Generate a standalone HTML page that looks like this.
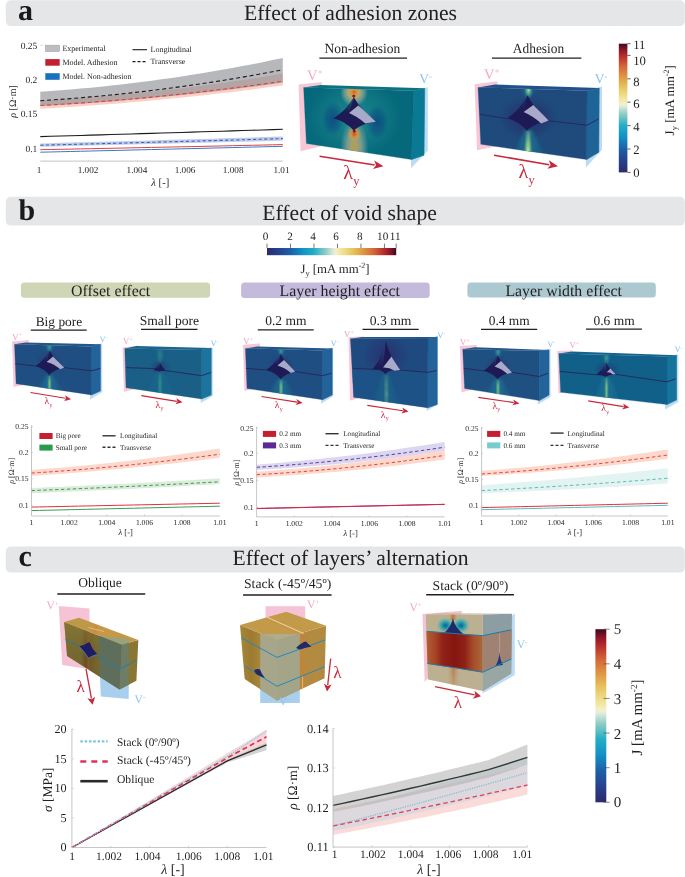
<!DOCTYPE html>
<html><head><meta charset="utf-8"><style>
html,body{margin:0;padding:0;background:#fff;}
svg{display:block;font-family:"Liberation Serif", serif;text-rendering:geometricPrecision;will-change:transform;}
</style></head><body>
<svg width="685" height="877" viewBox="0 0 685 877">
<defs><filter id="blur15" x="-50%" y="-50%" width="200%" height="200%"><feGaussianBlur stdDeviation="1.6"/></filter><clipPath id="cp1"><polygon points="303.60,87.60 413.70,90.70 411.50,159.60 306.40,143.50"/></clipPath><radialGradient id="rg2" gradientUnits="userSpaceOnUse" cx="0" cy="0" r="1" gradientTransform="translate(354.00,118.00) scale(48.00,40.00)"><stop offset="0" stop-color="#2a9a98" stop-opacity="0.6"/><stop offset="0.5" stop-color="#2a9a98" stop-opacity="0.35"/><stop offset="1" stop-color="#2a9a98" stop-opacity="0"/></radialGradient><radialGradient id="rg3" gradientUnits="userSpaceOnUse" cx="0" cy="0" r="1" gradientTransform="translate(333.00,119.00) scale(11.00,17.00)"><stop offset="0" stop-color="#0a3a82" stop-opacity="0.7"/><stop offset="0.6" stop-color="#0a3f80" stop-opacity="0.4"/><stop offset="1" stop-color="#0a4080" stop-opacity="0"/></radialGradient><radialGradient id="rg4" gradientUnits="userSpaceOnUse" cx="0" cy="0" r="1" gradientTransform="translate(377.00,122.00) scale(11.00,17.00)"><stop offset="0" stop-color="#0a3a82" stop-opacity="0.7"/><stop offset="0.6" stop-color="#0a3f80" stop-opacity="0.4"/><stop offset="1" stop-color="#0a4080" stop-opacity="0"/></radialGradient><radialGradient id="rg5" gradientUnits="userSpaceOnUse" cx="0" cy="0" r="1" gradientTransform="translate(354.00,92.00) scale(14.00,15.00)"><stop offset="0" stop-color="#c85a20" stop-opacity="1"/><stop offset="0.15" stop-color="#d89038" stop-opacity="1"/><stop offset="0.4" stop-color="#d0b070" stop-opacity="0.85"/><stop offset="0.7" stop-color="#b8b898" stop-opacity="0.5"/><stop offset="1" stop-color="#a8b0a0" stop-opacity="0"/></radialGradient><radialGradient id="rg6" gradientUnits="userSpaceOnUse" cx="0" cy="0" r="1" gradientTransform="translate(354.30,148.00) scale(14.00,30.00)"><stop offset="0" stop-color="#c8a048" stop-opacity="0.9"/><stop offset="0.2" stop-color="#c4a860" stop-opacity="0.85"/><stop offset="0.5" stop-color="#b4b094" stop-opacity="0.65"/><stop offset="0.8" stop-color="#a0aca0" stop-opacity="0.3"/><stop offset="1" stop-color="#a0aca0" stop-opacity="0"/></radialGradient><radialGradient id="rg7" gradientUnits="userSpaceOnUse" cx="0" cy="0" r="1" gradientTransform="translate(354.30,134.00) scale(7.00,8.00)"><stop offset="0" stop-color="#c85020" stop-opacity="1"/><stop offset="0.45" stop-color="#d89040" stop-opacity="0.85"/><stop offset="1" stop-color="#d8a848" stop-opacity="0"/></radialGradient><linearGradient id="lg8" gradientUnits="userSpaceOnUse" x1="353.90" y1="97.30" x2="349.00" y2="113.00"><stop offset="0" stop-color="#1d5a74" stop-opacity="1"/><stop offset="1" stop-color="#1d1a56" stop-opacity="1"/></linearGradient><clipPath id="cp9"><polygon points="478.00,87.40 587.00,90.70 586.60,159.60 480.80,144.30"/></clipPath><radialGradient id="rg10" gradientUnits="userSpaceOnUse" cx="0" cy="0" r="1" gradientTransform="translate(528.00,118.00) scale(30.00,22.00)"><stop offset="0" stop-color="#2a2466" stop-opacity="0.7"/><stop offset="0.6" stop-color="#2a2868" stop-opacity="0.4"/><stop offset="1" stop-color="#2a2a6a" stop-opacity="0"/></radialGradient><linearGradient id="lg11" gradientUnits="userSpaceOnUse" x1="508.50" y1="0.00" x2="548.50" y2="0.00"><stop offset="0" stop-color="#1c7494" stop-opacity="0"/><stop offset="0.5" stop-color="#1c7494" stop-opacity="0.85"/><stop offset="1" stop-color="#1c7494" stop-opacity="0"/></linearGradient><linearGradient id="lg12" gradientUnits="userSpaceOnUse" x1="517.50" y1="0.00" x2="539.50" y2="0.00"><stop offset="0" stop-color="#1c7494" stop-opacity="0"/><stop offset="0.5" stop-color="#1c7494" stop-opacity="0.6"/><stop offset="1" stop-color="#1c7494" stop-opacity="0"/></linearGradient><radialGradient id="rg13" gradientUnits="userSpaceOnUse" cx="0" cy="0" r="1" gradientTransform="translate(528.50,90.00) scale(4.80,9.00)"><stop offset="0" stop-color="#b8d880" stop-opacity="1"/><stop offset="0.4" stop-color="#60b890" stop-opacity="0.8"/><stop offset="1" stop-color="#2a8a9a" stop-opacity="0"/></radialGradient><linearGradient id="lg14" gradientUnits="userSpaceOnUse" x1="524.60" y1="0.00" x2="531.80" y2="0.00"><stop offset="0" stop-color="#a8d080" stop-opacity="0"/><stop offset="0.5" stop-color="#a8d080" stop-opacity="0.95"/><stop offset="1" stop-color="#a8d080" stop-opacity="0"/></linearGradient><linearGradient id="lg16" gradientUnits="userSpaceOnUse" x1="0.00" y1="131.00" x2="0.00" y2="162.00"><stop offset="0" stop-color="#fff" stop-opacity="0.3"/><stop offset="0.35" stop-color="#fff" stop-opacity="1"/><stop offset="1" stop-color="#fff" stop-opacity="0.9"/></linearGradient><mask id="m15" maskUnits="userSpaceOnUse" x="0" y="0" width="685" height="877"><rect x="524.60" y="131.00" width="7.20" height="31.00" fill="url(#lg16)"/></mask><radialGradient id="rg17" gradientUnits="userSpaceOnUse" cx="0" cy="0" r="1" gradientTransform="translate(528.00,150.00) scale(5.00,14.00)"><stop offset="0" stop-color="#d0e088" stop-opacity="0.9"/><stop offset="0.4" stop-color="#80c888" stop-opacity="0.6"/><stop offset="1" stop-color="#2a8a9a" stop-opacity="0"/></radialGradient><linearGradient id="lg18" gradientUnits="userSpaceOnUse" x1="527.60" y1="95.50" x2="523.60" y2="112.10"><stop offset="0" stop-color="#24306e" stop-opacity="1"/><stop offset="1" stop-color="#1d1a56" stop-opacity="1"/></linearGradient><linearGradient id="lg19" gradientUnits="userSpaceOnUse" x1="0.00" y1="172.40" x2="0.00" y2="43.70"><stop offset="0.0" stop-color="#2d2a6b" stop-opacity="1"/><stop offset="0.0909" stop-color="#26428c" stop-opacity="1"/><stop offset="0.1818" stop-color="#1c60a8" stop-opacity="1"/><stop offset="0.2727" stop-color="#1290c6" stop-opacity="1"/><stop offset="0.3636" stop-color="#22aec6" stop-opacity="1"/><stop offset="0.4545" stop-color="#90ccc4" stop-opacity="1"/><stop offset="0.5182" stop-color="#e4ece0" stop-opacity="1"/><stop offset="0.5318" stop-color="#f4f0c8" stop-opacity="1"/><stop offset="0.5909" stop-color="#efe08e" stop-opacity="1"/><stop offset="0.6636" stop-color="#e6c45e" stop-opacity="1"/><stop offset="0.7273" stop-color="#e0a048" stop-opacity="1"/><stop offset="0.8182" stop-color="#d66a38" stop-opacity="1"/><stop offset="0.9091" stop-color="#b52a2c" stop-opacity="1"/><stop offset="0.9545" stop-color="#8a1628" stop-opacity="1"/><stop offset="1.0" stop-color="#3c0a1e" stop-opacity="1"/></linearGradient><clipPath id="cp20"><polygon points="14.50,344.30 91.50,346.40 91.50,394.90 16.10,383.70"/></clipPath><radialGradient id="rg21" gradientUnits="userSpaceOnUse" cx="0" cy="0" r="1" gradientTransform="translate(49.50,362.85) scale(14.00,12.00)"><stop offset="0" stop-color="#2a2868" stop-opacity="0.55"/><stop offset="0.6" stop-color="#2a2a6a" stop-opacity="0.275"/><stop offset="1" stop-color="#2a2a6a" stop-opacity="0"/></radialGradient><radialGradient id="rg22" gradientUnits="userSpaceOnUse" cx="0" cy="0" r="1" gradientTransform="translate(49.50,347.15) scale(3.40,5.65)"><stop offset="0" stop-color="#7cc080" stop-opacity="0.9025"/><stop offset="0.5" stop-color="#3c9a8c" stop-opacity="0.57"/><stop offset="1" stop-color="#2a8a9a" stop-opacity="0"/></radialGradient><linearGradient id="lg23" gradientUnits="userSpaceOnUse" x1="34.50" y1="0.00" x2="64.50" y2="0.00"><stop offset="0" stop-color="#1c7494" stop-opacity="0"/><stop offset="0.5" stop-color="#1c7494" stop-opacity="0.8"/><stop offset="1" stop-color="#1c7494" stop-opacity="0"/></linearGradient><linearGradient id="lg24" gradientUnits="userSpaceOnUse" x1="42.50" y1="0.00" x2="56.50" y2="0.00"><stop offset="0" stop-color="#1c7494" stop-opacity="0"/><stop offset="0.5" stop-color="#1c7494" stop-opacity="0.5"/><stop offset="1" stop-color="#1c7494" stop-opacity="0"/></linearGradient><linearGradient id="lg25" gradientUnits="userSpaceOnUse" x1="47.10" y1="0.00" x2="51.90" y2="0.00"><stop offset="0" stop-color="#7cc080" stop-opacity="0"/><stop offset="0.5" stop-color="#7cc080" stop-opacity="0.95"/><stop offset="1" stop-color="#7cc080" stop-opacity="0"/></linearGradient><linearGradient id="lg27" gradientUnits="userSpaceOnUse" x1="0.00" y1="375.90" x2="0.00" y2="392.50"><stop offset="0" stop-color="#fff" stop-opacity="0.3"/><stop offset="0.35" stop-color="#fff" stop-opacity="1"/><stop offset="1" stop-color="#fff" stop-opacity="0.9"/></linearGradient><mask id="m26" maskUnits="userSpaceOnUse" x="0" y="0" width="685" height="877"><rect x="47.10" y="375.90" width="4.80" height="16.60" fill="url(#lg27)"/></mask><linearGradient id="lg28" gradientUnits="userSpaceOnUse" x1="49.80" y1="350.80" x2="46.60" y2="362.00"><stop offset="0" stop-color="#2a4a80" stop-opacity="1"/><stop offset="1" stop-color="#1d1a56" stop-opacity="1"/></linearGradient><clipPath id="cp29"><polygon points="124.80,348.40 201.50,350.00 201.50,398.90 126.00,387.70"/></clipPath><radialGradient id="rg30" gradientUnits="userSpaceOnUse" cx="0" cy="0" r="1" gradientTransform="translate(160.00,367.10) scale(11.00,8.00)"><stop offset="0" stop-color="#2a2868" stop-opacity="0.5"/><stop offset="0.6" stop-color="#2a2a6a" stop-opacity="0.25"/><stop offset="1" stop-color="#2a2a6a" stop-opacity="0"/></radialGradient><radialGradient id="rg31" gradientUnits="userSpaceOnUse" cx="0" cy="0" r="1" gradientTransform="translate(160.00,355.05) scale(3.74,9.55)"><stop offset="0" stop-color="#3aa88a" stop-opacity="0.57"/><stop offset="0.5" stop-color="#3c9a8c" stop-opacity="0.36"/><stop offset="1" stop-color="#2a8a9a" stop-opacity="0"/></radialGradient><linearGradient id="lg32" gradientUnits="userSpaceOnUse" x1="143.50" y1="0.00" x2="176.50" y2="0.00"><stop offset="0" stop-color="#1a6a8e" stop-opacity="0"/><stop offset="0.5" stop-color="#1a6a8e" stop-opacity="0.6400000000000001"/><stop offset="1" stop-color="#1a6a8e" stop-opacity="0"/></linearGradient><linearGradient id="lg33" gradientUnits="userSpaceOnUse" x1="152.30" y1="0.00" x2="167.70" y2="0.00"><stop offset="0" stop-color="#1a6a8e" stop-opacity="0"/><stop offset="0.5" stop-color="#1a6a8e" stop-opacity="0.4"/><stop offset="1" stop-color="#1a6a8e" stop-opacity="0"/></linearGradient><linearGradient id="lg34" gradientUnits="userSpaceOnUse" x1="157.36" y1="0.00" x2="162.64" y2="0.00"><stop offset="0" stop-color="#3aa88a" stop-opacity="0"/><stop offset="0.5" stop-color="#3aa88a" stop-opacity="0.6"/><stop offset="1" stop-color="#3aa88a" stop-opacity="0"/></linearGradient><linearGradient id="lg36" gradientUnits="userSpaceOnUse" x1="0.00" y1="372.60" x2="0.00" y2="396.00"><stop offset="0" stop-color="#fff" stop-opacity="0.3"/><stop offset="0.35" stop-color="#fff" stop-opacity="1"/><stop offset="1" stop-color="#fff" stop-opacity="0.9"/></linearGradient><mask id="m35" maskUnits="userSpaceOnUse" x="0" y="0" width="685" height="877"><rect x="157.36" y="372.60" width="5.28" height="23.40" fill="url(#lg36)"/></mask><linearGradient id="lg37" gradientUnits="userSpaceOnUse" x1="159.90" y1="362.60" x2="159.65" y2="368.70"><stop offset="0" stop-color="#2a4a80" stop-opacity="1"/><stop offset="1" stop-color="#1d1a56" stop-opacity="1"/></linearGradient><clipPath id="cp38"><polygon points="245.40,348.40 322.50,350.40 322.50,399.70 247.00,388.50"/></clipPath><radialGradient id="rg39" gradientUnits="userSpaceOnUse" cx="0" cy="0" r="1" gradientTransform="translate(281.00,366.45) scale(14.00,12.00)"><stop offset="0" stop-color="#2a2868" stop-opacity="0.55"/><stop offset="0.6" stop-color="#2a2a6a" stop-opacity="0.275"/><stop offset="1" stop-color="#2a2a6a" stop-opacity="0"/></radialGradient><radialGradient id="rg40" gradientUnits="userSpaceOnUse" cx="0" cy="0" r="1" gradientTransform="translate(281.00,350.75) scale(3.40,5.25)"><stop offset="0" stop-color="#7cc080" stop-opacity="0.9025"/><stop offset="0.5" stop-color="#3c9a8c" stop-opacity="0.57"/><stop offset="1" stop-color="#2a8a9a" stop-opacity="0"/></radialGradient><linearGradient id="lg41" gradientUnits="userSpaceOnUse" x1="266.00" y1="0.00" x2="296.00" y2="0.00"><stop offset="0" stop-color="#1c7494" stop-opacity="0"/><stop offset="0.5" stop-color="#1c7494" stop-opacity="0.8"/><stop offset="1" stop-color="#1c7494" stop-opacity="0"/></linearGradient><linearGradient id="lg42" gradientUnits="userSpaceOnUse" x1="274.00" y1="0.00" x2="288.00" y2="0.00"><stop offset="0" stop-color="#1c7494" stop-opacity="0"/><stop offset="0.5" stop-color="#1c7494" stop-opacity="0.5"/><stop offset="1" stop-color="#1c7494" stop-opacity="0"/></linearGradient><linearGradient id="lg43" gradientUnits="userSpaceOnUse" x1="278.60" y1="0.00" x2="283.40" y2="0.00"><stop offset="0" stop-color="#7cc080" stop-opacity="0"/><stop offset="0.5" stop-color="#7cc080" stop-opacity="0.95"/><stop offset="1" stop-color="#7cc080" stop-opacity="0"/></linearGradient><linearGradient id="lg45" gradientUnits="userSpaceOnUse" x1="0.00" y1="379.90" x2="0.00" y2="396.50"><stop offset="0" stop-color="#fff" stop-opacity="0.3"/><stop offset="0.35" stop-color="#fff" stop-opacity="1"/><stop offset="1" stop-color="#fff" stop-opacity="0.9"/></linearGradient><mask id="m44" maskUnits="userSpaceOnUse" x="0" y="0" width="685" height="877"><rect x="278.60" y="379.90" width="4.80" height="16.60" fill="url(#lg45)"/></mask><linearGradient id="lg46" gradientUnits="userSpaceOnUse" x1="280.80" y1="354.00" x2="277.50" y2="365.50"><stop offset="0" stop-color="#2a4a80" stop-opacity="1"/><stop offset="1" stop-color="#1d1a56" stop-opacity="1"/></linearGradient><clipPath id="cp47"><polygon points="350.40,338.70 428.00,339.00 427.50,407.80 353.70,397.30"/></clipPath><linearGradient id="lg48" gradientUnits="userSpaceOnUse" x1="369.00" y1="0.00" x2="403.00" y2="0.00"><stop offset="0" stop-color="#1c7494" stop-opacity="0"/><stop offset="0.5" stop-color="#1c7494" stop-opacity="0.8"/><stop offset="1" stop-color="#1c7494" stop-opacity="0"/></linearGradient><radialGradient id="rg49" gradientUnits="userSpaceOnUse" cx="0" cy="0" r="1" gradientTransform="translate(386.00,355.00) scale(24.00,22.00)"><stop offset="0" stop-color="#2a2868" stop-opacity="0.7"/><stop offset="0.6" stop-color="#2a2a6a" stop-opacity="0.35"/><stop offset="1" stop-color="#2a2a6a" stop-opacity="0"/></radialGradient><linearGradient id="lg50" gradientUnits="userSpaceOnUse" x1="383.50" y1="0.00" x2="389.10" y2="0.00"><stop offset="0" stop-color="#8cc880" stop-opacity="0"/><stop offset="0.5" stop-color="#8cc880" stop-opacity="0.95"/><stop offset="1" stop-color="#8cc880" stop-opacity="0"/></linearGradient><linearGradient id="lg52" gradientUnits="userSpaceOnUse" x1="0.00" y1="375.00" x2="0.00" y2="404.00"><stop offset="0" stop-color="#fff" stop-opacity="0.3"/><stop offset="0.35" stop-color="#fff" stop-opacity="1"/><stop offset="1" stop-color="#fff" stop-opacity="0.9"/></linearGradient><mask id="m51" maskUnits="userSpaceOnUse" x="0" y="0" width="685" height="877"><rect x="383.50" y="375.00" width="5.60" height="29.00" fill="url(#lg52)"/></mask><radialGradient id="rg53" gradientUnits="userSpaceOnUse" cx="0" cy="0" r="1" gradientTransform="translate(386.50,394.00) scale(3.40,9.00)"><stop offset="0" stop-color="#b8d888" stop-opacity="0.9"/><stop offset="0.45" stop-color="#60b08c" stop-opacity="0.5"/><stop offset="1" stop-color="#2a8a9a" stop-opacity="0"/></radialGradient><linearGradient id="lg54" gradientUnits="userSpaceOnUse" x1="385.80" y1="341.10" x2="383.00" y2="367.50"><stop offset="0" stop-color="#2a4a80" stop-opacity="1"/><stop offset="1" stop-color="#1d1a56" stop-opacity="1"/></linearGradient><clipPath id="cp55"><polygon points="462.70,349.20 539.30,350.80 539.30,400.60 464.60,388.50"/></clipPath><radialGradient id="rg56" gradientUnits="userSpaceOnUse" cx="0" cy="0" r="1" gradientTransform="translate(498.00,367.25) scale(14.00,12.00)"><stop offset="0" stop-color="#2a2868" stop-opacity="0.55"/><stop offset="0.6" stop-color="#2a2a6a" stop-opacity="0.275"/><stop offset="1" stop-color="#2a2a6a" stop-opacity="0"/></radialGradient><radialGradient id="rg57" gradientUnits="userSpaceOnUse" cx="0" cy="0" r="1" gradientTransform="translate(498.00,351.80) scale(3.40,5.80)"><stop offset="0" stop-color="#7cc080" stop-opacity="0.9025"/><stop offset="0.5" stop-color="#3c9a8c" stop-opacity="0.57"/><stop offset="1" stop-color="#2a8a9a" stop-opacity="0"/></radialGradient><linearGradient id="lg58" gradientUnits="userSpaceOnUse" x1="483.00" y1="0.00" x2="513.00" y2="0.00"><stop offset="0" stop-color="#1c7494" stop-opacity="0"/><stop offset="0.5" stop-color="#1c7494" stop-opacity="0.8"/><stop offset="1" stop-color="#1c7494" stop-opacity="0"/></linearGradient><linearGradient id="lg59" gradientUnits="userSpaceOnUse" x1="491.00" y1="0.00" x2="505.00" y2="0.00"><stop offset="0" stop-color="#1c7494" stop-opacity="0"/><stop offset="0.5" stop-color="#1c7494" stop-opacity="0.5"/><stop offset="1" stop-color="#1c7494" stop-opacity="0"/></linearGradient><linearGradient id="lg60" gradientUnits="userSpaceOnUse" x1="495.60" y1="0.00" x2="500.40" y2="0.00"><stop offset="0" stop-color="#7cc080" stop-opacity="0"/><stop offset="0.5" stop-color="#7cc080" stop-opacity="0.95"/><stop offset="1" stop-color="#7cc080" stop-opacity="0"/></linearGradient><linearGradient id="lg62" gradientUnits="userSpaceOnUse" x1="0.00" y1="379.90" x2="0.00" y2="397.00"><stop offset="0" stop-color="#fff" stop-opacity="0.3"/><stop offset="0.35" stop-color="#fff" stop-opacity="1"/><stop offset="1" stop-color="#fff" stop-opacity="0.9"/></linearGradient><mask id="m61" maskUnits="userSpaceOnUse" x="0" y="0" width="685" height="877"><rect x="495.60" y="379.90" width="4.80" height="17.10" fill="url(#lg62)"/></mask><linearGradient id="lg63" gradientUnits="userSpaceOnUse" x1="497.60" y1="355.60" x2="494.50" y2="366.50"><stop offset="0" stop-color="#2a4a80" stop-opacity="1"/><stop offset="1" stop-color="#1d1a56" stop-opacity="1"/></linearGradient><clipPath id="cp64"><polygon points="558.80,353.40 667.00,356.60 667.00,404.60 560.70,392.30"/></clipPath><radialGradient id="rg65" gradientUnits="userSpaceOnUse" cx="0" cy="0" r="1" gradientTransform="translate(606.50,369.80) scale(13.00,9.00)"><stop offset="0" stop-color="#2a2868" stop-opacity="0.55"/><stop offset="0.6" stop-color="#2a2a6a" stop-opacity="0.275"/><stop offset="1" stop-color="#2a2a6a" stop-opacity="0"/></radialGradient><radialGradient id="rg66" gradientUnits="userSpaceOnUse" cx="0" cy="0" r="1" gradientTransform="translate(606.50,357.95) scale(3.40,6.95)"><stop offset="0" stop-color="#7cc080" stop-opacity="0.9025"/><stop offset="0.5" stop-color="#3c9a8c" stop-opacity="0.57"/><stop offset="1" stop-color="#2a8a9a" stop-opacity="0"/></radialGradient><linearGradient id="lg67" gradientUnits="userSpaceOnUse" x1="591.50" y1="0.00" x2="621.50" y2="0.00"><stop offset="0" stop-color="#1c7494" stop-opacity="0"/><stop offset="0.5" stop-color="#1c7494" stop-opacity="0.8"/><stop offset="1" stop-color="#1c7494" stop-opacity="0"/></linearGradient><linearGradient id="lg68" gradientUnits="userSpaceOnUse" x1="599.50" y1="0.00" x2="613.50" y2="0.00"><stop offset="0" stop-color="#1c7494" stop-opacity="0"/><stop offset="0.5" stop-color="#1c7494" stop-opacity="0.5"/><stop offset="1" stop-color="#1c7494" stop-opacity="0"/></linearGradient><linearGradient id="lg69" gradientUnits="userSpaceOnUse" x1="604.10" y1="0.00" x2="608.90" y2="0.00"><stop offset="0" stop-color="#7cc080" stop-opacity="0"/><stop offset="0.5" stop-color="#7cc080" stop-opacity="0.95"/><stop offset="1" stop-color="#7cc080" stop-opacity="0"/></linearGradient><linearGradient id="lg71" gradientUnits="userSpaceOnUse" x1="0.00" y1="377.70" x2="0.00" y2="401.00"><stop offset="0" stop-color="#fff" stop-opacity="0.3"/><stop offset="0.35" stop-color="#fff" stop-opacity="1"/><stop offset="1" stop-color="#fff" stop-opacity="0.9"/></linearGradient><mask id="m70" maskUnits="userSpaceOnUse" x="0" y="0" width="685" height="877"><rect x="604.10" y="377.70" width="4.80" height="23.30" fill="url(#lg71)"/></mask><linearGradient id="lg72" gradientUnits="userSpaceOnUse" x1="606.20" y1="362.90" x2="606.50" y2="372.50"><stop offset="0" stop-color="#2a4a80" stop-opacity="1"/><stop offset="1" stop-color="#1d1a56" stop-opacity="1"/></linearGradient><linearGradient id="lg73" gradientUnits="userSpaceOnUse" x1="267.00" y1="0.00" x2="396.20" y2="0.00"><stop offset="0.0" stop-color="#2d2a6b" stop-opacity="1"/><stop offset="0.0909" stop-color="#26428c" stop-opacity="1"/><stop offset="0.1818" stop-color="#1c60a8" stop-opacity="1"/><stop offset="0.2727" stop-color="#1290c6" stop-opacity="1"/><stop offset="0.3636" stop-color="#22aec6" stop-opacity="1"/><stop offset="0.4545" stop-color="#90ccc4" stop-opacity="1"/><stop offset="0.5182" stop-color="#e4ece0" stop-opacity="1"/><stop offset="0.5318" stop-color="#f4f0c8" stop-opacity="1"/><stop offset="0.5909" stop-color="#efe08e" stop-opacity="1"/><stop offset="0.6636" stop-color="#e6c45e" stop-opacity="1"/><stop offset="0.7273" stop-color="#e0a048" stop-opacity="1"/><stop offset="0.8182" stop-color="#d66a38" stop-opacity="1"/><stop offset="0.9091" stop-color="#b52a2c" stop-opacity="1"/><stop offset="0.9545" stop-color="#8a1628" stop-opacity="1"/><stop offset="1.0" stop-color="#3c0a1e" stop-opacity="1"/></linearGradient><linearGradient id="lg74" gradientUnits="userSpaceOnUse" x1="64.00" y1="0.00" x2="122.00" y2="0.00"><stop offset="0" stop-color="#76682e" stop-opacity="1"/><stop offset="0.3" stop-color="#746630" stop-opacity="1"/><stop offset="0.38" stop-color="#624e22" stop-opacity="1"/><stop offset="0.42" stop-color="#8e5426" stop-opacity="1"/><stop offset="0.45" stop-color="#6e5a26" stop-opacity="1"/><stop offset="0.6" stop-color="#766830" stop-opacity="1"/><stop offset="1" stop-color="#786a32" stop-opacity="1"/></linearGradient><linearGradient id="lg75" gradientUnits="userSpaceOnUse" x1="0.00" y1="622.00" x2="0.00" y2="690.00"><stop offset="0" stop-color="#8a7a38" stop-opacity="0.7"/><stop offset="0.5" stop-color="#8a7a38" stop-opacity="0"/><stop offset="1" stop-color="#5a4a20" stop-opacity="0.3"/></linearGradient><linearGradient id="lg76" gradientUnits="userSpaceOnUse" x1="64.00" y1="620.00" x2="138.00" y2="642.00"><stop offset="0" stop-color="#b89a48" stop-opacity="1"/><stop offset="0.38" stop-color="#c09848" stop-opacity="1"/><stop offset="0.42" stop-color="#d08a40" stop-opacity="1"/><stop offset="0.48" stop-color="#c89848" stop-opacity="1"/><stop offset="1" stop-color="#c09a48" stop-opacity="1"/></linearGradient><clipPath id="cp77"><polygon points="64.20,622.00 79.00,617.80 138.30,639.90 121.90,644.70"/></clipPath><clipPath id="cp78"><polygon points="64.20,622.00 121.90,644.70 119.60,689.50 67.00,655.90"/></clipPath><clipPath id="cp79"><polygon points="121.90,644.70 138.30,639.90 136.40,680.80 119.60,689.50"/></clipPath><linearGradient id="lg80" gradientUnits="userSpaceOnUse" x1="240.00" y1="0.00" x2="277.00" y2="0.00"><stop offset="0" stop-color="#a48838" stop-opacity="1"/><stop offset="0.3" stop-color="#9c7a30" stop-opacity="1"/><stop offset="0.6" stop-color="#aa8a3c" stop-opacity="1"/><stop offset="1" stop-color="#a88a3c" stop-opacity="1"/></linearGradient><linearGradient id="lg81" gradientUnits="userSpaceOnUse" x1="277.00" y1="0.00" x2="326.00" y2="0.00"><stop offset="0" stop-color="#b08a42" stop-opacity="1"/><stop offset="0.45" stop-color="#b88a40" stop-opacity="1"/><stop offset="0.52" stop-color="#c0843a" stop-opacity="1"/><stop offset="0.6" stop-color="#b48a40" stop-opacity="1"/><stop offset="1" stop-color="#b08a40" stop-opacity="1"/></linearGradient><clipPath id="cp82"><polygon points="240.00,625.10 286.30,611.70 326.00,625.80 277.00,640.20"/></clipPath><clipPath id="cp83"><polygon points="240.00,625.10 277.00,640.20 277.00,700.40 244.70,678.90"/></clipPath><clipPath id="cp84"><polygon points="277.00,640.20 326.00,625.80 324.60,678.20 277.00,700.40"/></clipPath><clipPath id="cp85"><polygon points="425.80,614.50 482.80,614.50 482.80,691.10 428.00,679.50"/></clipPath><radialGradient id="rg86" gradientUnits="userSpaceOnUse" cx="0" cy="0" r="1" gradientTransform="translate(445.50,625.50) scale(10.00,9.00)"><stop offset="0" stop-color="#1a5a90" stop-opacity="1"/><stop offset="0.3" stop-color="#1896aa" stop-opacity="1"/><stop offset="0.6" stop-color="#58aca8" stop-opacity="0.8"/><stop offset="1" stop-color="#b0b8a0" stop-opacity="0"/></radialGradient><radialGradient id="rg87" gradientUnits="userSpaceOnUse" cx="0" cy="0" r="1" gradientTransform="translate(461.00,625.50) scale(10.00,9.00)"><stop offset="0" stop-color="#1a5a90" stop-opacity="1"/><stop offset="0.3" stop-color="#1896aa" stop-opacity="1"/><stop offset="0.6" stop-color="#58aca8" stop-opacity="0.8"/><stop offset="1" stop-color="#b0b8a0" stop-opacity="0"/></radialGradient><linearGradient id="lg88" gradientUnits="userSpaceOnUse" x1="449.00" y1="0.00" x2="457.00" y2="0.00"><stop offset="0" stop-color="#c08040" stop-opacity="0"/><stop offset="0.5" stop-color="#c06a30" stop-opacity="0.9"/><stop offset="1" stop-color="#c08040" stop-opacity="0"/></linearGradient><linearGradient id="lg89" gradientUnits="userSpaceOnUse" x1="425.00" y1="0.00" x2="483.00" y2="0.00"><stop offset="0" stop-color="#b0643a" stop-opacity="1"/><stop offset="0.18" stop-color="#a84424" stop-opacity="1"/><stop offset="0.3" stop-color="#92221a" stop-opacity="1"/><stop offset="0.5" stop-color="#841610" stop-opacity="1"/><stop offset="0.68" stop-color="#8e2016" stop-opacity="1"/><stop offset="0.82" stop-color="#a44a28" stop-opacity="1"/><stop offset="1" stop-color="#ac6a3c" stop-opacity="1"/></linearGradient><linearGradient id="lg90" gradientUnits="userSpaceOnUse" x1="447.00" y1="0.00" x2="460.00" y2="0.00"><stop offset="0" stop-color="#c8a070" stop-opacity="0"/><stop offset="0.5" stop-color="#b86a38" stop-opacity="0.85"/><stop offset="1" stop-color="#c8a070" stop-opacity="0"/></linearGradient><linearGradient id="lg91" gradientUnits="userSpaceOnUse" x1="0.00" y1="664.00" x2="0.00" y2="690.00"><stop offset="0" stop-color="#fff" stop-opacity="1"/><stop offset="1" stop-color="#fff" stop-opacity="0.2"/></linearGradient><mask id="m92" maskUnits="userSpaceOnUse" x="0" y="0" width="685" height="877"><rect x="447" y="667.5" width="13" height="26" fill="url(#lg91)"/></mask><clipPath id="cp93"><polygon points="482.80,614.50 512.00,613.80 511.20,673.60 482.80,691.10"/></clipPath><linearGradient id="lg94" gradientUnits="userSpaceOnUse" x1="0.00" y1="802.30" x2="0.00" y2="629.20"><stop offset="0.0" stop-color="#2d2a6b" stop-opacity="1"/><stop offset="0.0909" stop-color="#26428c" stop-opacity="1"/><stop offset="0.1818" stop-color="#1c60a8" stop-opacity="1"/><stop offset="0.2727" stop-color="#1290c6" stop-opacity="1"/><stop offset="0.3636" stop-color="#22aec6" stop-opacity="1"/><stop offset="0.4545" stop-color="#90ccc4" stop-opacity="1"/><stop offset="0.5182" stop-color="#e4ece0" stop-opacity="1"/><stop offset="0.5318" stop-color="#f4f0c8" stop-opacity="1"/><stop offset="0.5909" stop-color="#efe08e" stop-opacity="1"/><stop offset="0.6636" stop-color="#e6c45e" stop-opacity="1"/><stop offset="0.7273" stop-color="#e0a048" stop-opacity="1"/><stop offset="0.8182" stop-color="#d66a38" stop-opacity="1"/><stop offset="0.9091" stop-color="#b52a2c" stop-opacity="1"/><stop offset="0.9545" stop-color="#8a1628" stop-opacity="1"/><stop offset="1.0" stop-color="#3c0a1e" stop-opacity="1"/></linearGradient></defs>
<rect x="5.8" y="0.2" width="679" height="25.900000000000002" rx="5" fill="#e5e6e8"/>
<text x="18.00" y="20.40" font-size="30" fill="#1a1a1a" text-anchor="start" font-weight="bold">a</text>
<text x="244.00" y="20.20" font-size="21.7" fill="#231f20" text-anchor="start" textLength="213.00" lengthAdjust="spacingAndGlyphs">Effect of adhesion zones</text>
<rect x="5.8" y="196.8" width="679" height="28.799999999999983" rx="5" fill="#e5e6e8"/>
<text x="18.60" y="219.80" font-size="30" fill="#1a1a1a" text-anchor="start" font-weight="bold">b</text>
<text x="262.30" y="219.80" font-size="21.7" fill="#231f20" text-anchor="start" textLength="174.60" lengthAdjust="spacingAndGlyphs">Effect of void shape</text>
<rect x="5.8" y="546.5" width="679" height="26.100000000000023" rx="5" fill="#e5e6e8"/>
<text x="18.60" y="565.60" font-size="30" fill="#1a1a1a" text-anchor="start" font-weight="bold">c</text>
<text x="232.50" y="565.40" font-size="21.7" fill="#231f20" text-anchor="start" textLength="236.10" lengthAdjust="spacingAndGlyphs">Effect of layers’ alternation</text>
<polygon points="40.30,100.60 50.40,100.03 60.51,99.42 70.61,98.76 80.72,98.04 90.82,97.28 100.92,96.47 111.03,95.62 121.13,94.71 131.24,93.76 141.34,92.75 151.45,91.70 161.55,90.60 171.65,89.45 181.76,88.25 191.86,87.01 201.97,85.71 212.07,84.37 222.18,82.97 232.28,81.53 242.38,80.04 252.49,78.51 262.59,76.92 272.70,75.28 282.80,73.60 282.80,85.40 272.70,86.77 262.59,88.11 252.49,89.42 242.38,90.69 232.28,91.92 222.18,93.12 212.07,94.29 201.97,95.42 191.86,96.52 181.76,97.58 171.65,98.61 161.55,99.60 151.45,100.56 141.34,101.48 131.24,102.37 121.13,103.22 111.03,104.04 100.92,104.83 90.82,105.57 80.72,106.29 70.61,106.97 60.51,107.61 50.40,108.22 40.30,108.80" fill="#f4a898" fill-opacity="0.55"/>
<polygon points="40.30,91.70 50.40,91.01 60.51,90.27 70.61,89.46 80.72,88.58 90.82,87.65 100.92,86.65 111.03,85.59 121.13,84.47 131.24,83.28 141.34,82.03 151.45,80.72 161.55,79.35 171.65,77.91 181.76,76.42 191.86,74.86 201.97,73.23 212.07,71.55 222.18,69.80 232.28,67.99 242.38,66.12 252.49,64.18 262.59,62.18 272.70,60.12 282.80,58.00 282.80,82.60 272.70,84.01 262.59,85.39 252.49,86.73 242.38,88.03 232.28,89.29 222.18,90.51 212.07,91.70 201.97,92.84 191.86,93.95 181.76,95.02 171.65,96.06 161.55,97.05 151.45,98.01 141.34,98.92 131.24,99.80 121.13,100.64 111.03,101.45 100.92,102.21 90.82,102.94 80.72,103.63 70.61,104.28 60.51,104.89 50.40,105.46 40.30,106.00" fill="#86888f" fill-opacity="0.6"/>
<polygon points="40.30,143.40 50.40,143.14 60.51,142.87 70.61,142.60 80.72,142.33 90.82,142.06 100.92,141.79 111.03,141.51 121.13,141.23 131.24,140.95 141.34,140.67 151.45,140.39 161.55,140.10 171.65,139.81 181.76,139.52 191.86,139.23 201.97,138.93 212.07,138.64 222.18,138.34 232.28,138.04 242.38,137.73 252.49,137.43 262.59,137.12 272.70,136.81 282.80,136.50 282.80,140.60 272.70,140.88 262.59,141.16 252.49,141.44 242.38,141.72 232.28,141.99 222.18,142.26 212.07,142.53 201.97,142.80 191.86,143.07 181.76,143.33 171.65,143.59 161.55,143.85 151.45,144.11 141.34,144.36 131.24,144.62 121.13,144.87 111.03,145.12 100.92,145.36 90.82,145.61 80.72,145.85 70.61,146.09 60.51,146.33 50.40,146.57 40.30,146.80" fill="#c5cbe6" fill-opacity="1.0"/>
<polyline points="40.30,100.70 50.40,100.05 60.51,99.35 70.61,98.59 80.72,97.77 90.82,96.90 100.92,95.97 111.03,94.99 121.13,93.96 131.24,92.86 141.34,91.71 151.45,90.51 161.55,89.25 171.65,87.93 181.76,86.56 191.86,85.14 201.97,83.66 212.07,82.12 222.18,80.53 232.28,78.88 242.38,77.17 252.49,75.41 262.59,73.60 272.70,71.73 282.80,69.80" fill="none" stroke="#1a1a1a" stroke-width="1.1" stroke-dasharray="4,2.8"/>
<polyline points="40.30,105.50 50.40,104.93 60.51,104.32 70.61,103.67 80.72,102.98 90.82,102.25 100.92,101.49 111.03,100.69 121.13,99.84 131.24,98.97 141.34,98.05 151.45,97.09 161.55,96.10 171.65,95.07 181.76,94.00 191.86,92.89 201.97,91.74 212.07,90.56 222.18,89.34 232.28,88.08 242.38,86.78 252.49,85.44 262.59,84.07 272.70,82.65 282.80,81.20" fill="none" stroke="#e0403c" stroke-width="1.1" stroke-dasharray="4,2.8"/>
<polyline points="40.30,136.60 50.40,136.31 60.51,136.02 70.61,135.73 80.72,135.44 90.82,135.15 100.92,134.85 111.03,134.55 121.13,134.26 131.24,133.96 141.34,133.66 151.45,133.35 161.55,133.05 171.65,132.75 181.76,132.44 191.86,132.13 201.97,131.82 212.07,131.51 222.18,131.20 232.28,130.89 242.38,130.57 252.49,130.26 262.59,129.94 272.70,129.62 282.80,129.30" fill="none" stroke="#1a1a1a" stroke-width="1.1"/>
<polyline points="40.30,145.20 50.40,144.94 60.51,144.69 70.61,144.43 80.72,144.17 90.82,143.91 100.92,143.64 111.03,143.38 121.13,143.11 131.24,142.84 141.34,142.57 151.45,142.30 161.55,142.02 171.65,141.75 181.76,141.47 191.86,141.19 201.97,140.91 212.07,140.63 222.18,140.34 232.28,140.06 242.38,139.77 252.49,139.48 262.59,139.19 272.70,138.89 282.80,138.60" fill="none" stroke="#2a6cc0" stroke-width="1.1" stroke-dasharray="3.2,2.4"/>
<polyline points="40.30,149.70 50.40,149.50 60.51,149.30 70.61,149.10 80.72,148.89 90.82,148.69 100.92,148.48 111.03,148.27 121.13,148.07 131.24,147.86 141.34,147.65 151.45,147.44 161.55,147.22 171.65,147.01 181.76,146.80 191.86,146.58 201.97,146.37 212.07,146.15 222.18,145.93 232.28,145.71 242.38,145.49 252.49,145.27 262.59,145.05 272.70,144.82 282.80,144.60" fill="none" stroke="#e04040" stroke-width="1.0"/>
<polyline points="40.30,152.20 50.40,151.97 60.51,151.73 70.61,151.50 80.72,151.26 90.82,151.02 100.92,150.78 111.03,150.54 121.13,150.30 131.24,150.06 141.34,149.81 151.45,149.57 161.55,149.32 171.65,149.08 181.76,148.83 191.86,148.58 201.97,148.33 212.07,148.08 222.18,147.83 232.28,147.58 242.38,147.32 252.49,147.07 262.59,146.81 272.70,146.56 282.80,146.30" fill="none" stroke="#3a78c8" stroke-width="1.0"/>
<line x1="40.30" y1="161.10" x2="282.80" y2="161.10" stroke="#b4b4b4" stroke-width="0.8"/>
<line x1="40.20" y1="45.30" x2="42.70" y2="45.30" stroke="#c0c0c0" stroke-width="0.6"/>
<text x="37.30" y="49.15" font-size="9.5" fill="#231f20" text-anchor="end">0.25</text>
<text x="37.30" y="82.70" font-size="9.5" fill="#231f20" text-anchor="end">0.2</text>
<text x="37.30" y="117.20" font-size="9.5" fill="#231f20" text-anchor="end">0.15</text>
<text x="37.30" y="151.60" font-size="9.5" fill="#231f20" text-anchor="end">0.1</text>
<text x="39.00" y="172.90" font-size="9.2" fill="#231f20" text-anchor="middle">1</text>
<text x="88.05" y="172.90" font-size="9.2" fill="#231f20" text-anchor="middle">1.002</text>
<text x="136.90" y="172.90" font-size="9.2" fill="#231f20" text-anchor="middle">1.004</text>
<text x="185.00" y="172.90" font-size="9.2" fill="#231f20" text-anchor="middle">1.006</text>
<text x="233.20" y="172.90" font-size="9.2" fill="#231f20" text-anchor="middle">1.008</text>
<text x="281.50" y="172.90" font-size="9.2" fill="#231f20" text-anchor="middle">1.01</text>
<line x1="88.55" y1="161.10" x2="88.55" y2="159.50" stroke="#c8c8c8" stroke-width="0.5"/>
<line x1="137.40" y1="161.10" x2="137.40" y2="159.50" stroke="#c8c8c8" stroke-width="0.5"/>
<line x1="185.50" y1="161.10" x2="185.50" y2="159.50" stroke="#c8c8c8" stroke-width="0.5"/>
<line x1="233.70" y1="161.10" x2="233.70" y2="159.50" stroke="#c8c8c8" stroke-width="0.5"/>
<text x="160.30" y="185.60" font-size="10.7" fill="#231f20" text-anchor="middle"><tspan font-style="italic">λ</tspan> [-]</text>
<text transform="translate(16.3,101.5) rotate(-90)" font-size="10" fill="#231f20" text-anchor="middle"><tspan font-style="italic">ρ</tspan> [Ω·m]</text>
<rect x="45.3" y="45.1" width="14.4" height="6.6" fill="#bcbdc0" stroke="#9a9a9e" stroke-width="0.4"/>
<rect x="45.3" y="59.1" width="14.4" height="6.6" fill="#c41e30"/>
<rect x="45.3" y="73.2" width="14.4" height="6.6" fill="#1a70c0"/>
<text x="62.40" y="51.30" font-size="8" fill="#231f20" text-anchor="start">Experimental</text>
<text x="62.40" y="65.30" font-size="8" fill="#231f20" text-anchor="start">Model. Adhesion</text>
<text x="62.40" y="79.30" font-size="8" fill="#231f20" text-anchor="start" textLength="69.00" lengthAdjust="spacingAndGlyphs">Model. Non-adhesion</text>
<line x1="132.50" y1="49.70" x2="147.00" y2="49.70" stroke="#1a1a1a" stroke-width="1.1"/>
<line x1="132.50" y1="61.60" x2="147.00" y2="61.60" stroke="#1a1a1a" stroke-width="1.1" stroke-dasharray="3,2"/>
<text x="150.50" y="52.40" font-size="8" fill="#231f20" text-anchor="start">Longitudinal</text>
<text x="150.50" y="64.30" font-size="8" fill="#231f20" text-anchor="start">Transverse</text>
<polygon points="31.50,469.90 39.35,469.32 47.19,468.72 55.04,468.09 62.88,467.43 70.73,466.74 78.58,466.02 86.42,465.28 94.27,464.51 102.11,463.71 109.96,462.89 117.80,462.03 125.65,461.15 133.50,460.24 141.34,459.30 149.19,458.34 157.03,457.34 164.88,456.32 172.73,455.27 180.57,454.20 188.42,453.09 196.26,451.96 204.11,450.80 211.95,449.62 219.80,448.40 219.80,457.70 211.95,458.70 204.11,459.67 196.26,460.63 188.42,461.57 180.57,462.48 172.73,463.38 164.88,464.25 157.03,465.10 149.19,465.93 141.34,466.74 133.50,467.53 125.65,468.30 117.80,469.05 109.96,469.77 102.11,470.48 94.27,471.17 86.42,471.83 78.58,472.47 70.73,473.10 62.88,473.70 55.04,474.28 47.19,474.84 39.35,475.38 31.50,475.90" fill="#fcd9cc" fill-opacity="1.0"/>
<polygon points="31.50,488.00 39.35,487.68 47.19,487.34 55.04,487.01 62.88,486.66 70.73,486.31 78.58,485.95 86.42,485.58 94.27,485.21 102.11,484.83 109.96,484.44 117.80,484.05 125.65,483.65 133.50,483.24 141.34,482.83 149.19,482.41 157.03,481.98 164.88,481.54 172.73,481.10 180.57,480.65 188.42,480.19 196.26,479.73 204.11,479.26 211.95,478.78 219.80,478.30 219.80,484.00 211.95,484.46 204.11,484.92 196.26,485.37 188.42,485.81 180.57,486.25 172.73,486.68 164.88,487.10 157.03,487.51 149.19,487.92 141.34,488.32 133.50,488.71 125.65,489.10 117.80,489.48 109.96,489.85 102.11,490.22 94.27,490.58 86.42,490.93 78.58,491.27 70.73,491.61 62.88,491.94 55.04,492.27 47.19,492.59 39.35,492.90 31.50,493.20" fill="#dbecdb" fill-opacity="1.0"/>
<polyline points="31.50,473.10 39.35,472.59 47.19,472.06 55.04,471.50 62.88,470.92 70.73,470.32 78.58,469.69 86.42,469.03 94.27,468.36 102.11,467.65 109.96,466.93 117.80,466.18 125.65,465.40 133.50,464.60 141.34,463.78 149.19,462.93 157.03,462.06 164.88,461.16 172.73,460.24 180.57,459.29 188.42,458.32 196.26,457.33 204.11,456.31 211.95,455.27 219.80,454.20" fill="none" stroke="#e8403c" stroke-width="1.0" stroke-dasharray="3.4,2.5"/>
<polyline points="31.50,490.60 39.35,490.30 47.19,489.99 55.04,489.68 62.88,489.36 70.73,489.03 78.58,488.70 86.42,488.36 94.27,488.02 102.11,487.68 109.96,487.32 117.80,486.96 125.65,486.60 133.50,486.23 141.34,485.86 149.19,485.48 157.03,485.09 164.88,484.70 172.73,484.30 180.57,483.90 188.42,483.49 196.26,483.08 204.11,482.66 211.95,482.23 219.80,481.80" fill="none" stroke="#3a9a58" stroke-width="1.0" stroke-dasharray="3.4,2.5"/>
<polyline points="31.50,507.10 39.35,506.94 47.19,506.78 55.04,506.61 62.88,506.45 70.73,506.29 78.58,506.12 86.42,505.96 94.27,505.80 102.11,505.64 109.96,505.48 117.80,505.31 125.65,505.15 133.50,504.99 141.34,504.82 149.19,504.66 157.03,504.50 164.88,504.34 172.73,504.18 180.57,504.01 188.42,503.85 196.26,503.69 204.11,503.52 211.95,503.36 219.80,503.20" fill="none" stroke="#e0303c" stroke-width="1.0"/>
<polyline points="31.50,510.60 39.35,510.42 47.19,510.23 55.04,510.05 62.88,509.87 70.73,509.68 78.58,509.50 86.42,509.32 94.27,509.13 102.11,508.95 109.96,508.77 117.80,508.58 125.65,508.40 133.50,508.22 141.34,508.03 149.19,507.85 157.03,507.67 164.88,507.48 172.73,507.30 180.57,507.12 188.42,506.93 196.26,506.75 204.11,506.57 211.95,506.38 219.80,506.20" fill="none" stroke="#3a9a58" stroke-width="1.0"/>
<line x1="31.50" y1="425.30" x2="31.50" y2="516.00" stroke="#b8b8b8" stroke-width="0.8"/>
<line x1="31.50" y1="516.00" x2="219.80" y2="516.00" stroke="#b8b8b8" stroke-width="0.8"/>
<line x1="31.50" y1="426.70" x2="33.00" y2="426.70" stroke="#b8b8b8" stroke-width="0.6"/>
<text x="28.50" y="429.30" font-size="7.6" fill="#231f20" text-anchor="end">0.25</text>
<line x1="31.50" y1="452.40" x2="33.00" y2="452.40" stroke="#b8b8b8" stroke-width="0.6"/>
<text x="28.50" y="455.00" font-size="7.6" fill="#231f20" text-anchor="end">0.2</text>
<line x1="31.50" y1="478.70" x2="33.00" y2="478.70" stroke="#b8b8b8" stroke-width="0.6"/>
<text x="28.50" y="481.30" font-size="7.6" fill="#231f20" text-anchor="end">0.15</text>
<line x1="31.50" y1="505.80" x2="33.00" y2="505.80" stroke="#b8b8b8" stroke-width="0.6"/>
<text x="28.50" y="508.40" font-size="7.6" fill="#231f20" text-anchor="end">0.1</text>
<text x="31.50" y="525.10" font-size="7.6" fill="#231f20" text-anchor="middle">1</text>
<line x1="69.16" y1="516.00" x2="69.16" y2="514.50" stroke="#b8b8b8" stroke-width="0.6"/>
<text x="69.16" y="525.10" font-size="7.6" fill="#231f20" text-anchor="middle">1.002</text>
<line x1="106.82" y1="516.00" x2="106.82" y2="514.50" stroke="#b8b8b8" stroke-width="0.6"/>
<text x="106.82" y="525.10" font-size="7.6" fill="#231f20" text-anchor="middle">1.004</text>
<line x1="144.48" y1="516.00" x2="144.48" y2="514.50" stroke="#b8b8b8" stroke-width="0.6"/>
<text x="144.48" y="525.10" font-size="7.6" fill="#231f20" text-anchor="middle">1.006</text>
<line x1="182.14" y1="516.00" x2="182.14" y2="514.50" stroke="#b8b8b8" stroke-width="0.6"/>
<text x="182.14" y="525.10" font-size="7.6" fill="#231f20" text-anchor="middle">1.008</text>
<text x="219.80" y="525.10" font-size="7.6" fill="#231f20" text-anchor="middle">1.01</text>
<text x="125.70" y="534.70" font-size="8.5" fill="#231f20" text-anchor="middle"><tspan font-style="italic">λ</tspan> [-]</text>
<text transform="translate(13.50,470.80) rotate(-90)" font-size="8.0" fill="#231f20" text-anchor="middle"><tspan font-style="italic">ρ</tspan> [Ω·m]</text>
<rect x="39.40" y="433.00" width="13.2" height="6" fill="#c41e30"/>
<rect x="39.40" y="444.60" width="13.2" height="6" fill="#2a9a4c"/>
<text x="55.70" y="438.10" font-size="7.2" fill="#231f20" text-anchor="start">Big pore</text>
<text x="55.70" y="449.70" font-size="7.2" fill="#231f20" text-anchor="start">Small pore</text>
<line x1="102.50" y1="435.80" x2="115.60" y2="435.80" stroke="#333" stroke-width="1.4"/>
<line x1="102.50" y1="447.20" x2="115.60" y2="447.20" stroke="#333" stroke-width="1.4" stroke-dasharray="3,2"/>
<text x="120.00" y="438.20" font-size="7.2" fill="#231f20" text-anchor="start">Longitudinal</text>
<text x="120.00" y="449.60" font-size="7.2" fill="#231f20" text-anchor="start">Transverse</text>
<polygon points="256.60,464.70 264.43,464.09 272.27,463.44 280.10,462.77 287.93,462.07 295.77,461.34 303.60,460.57 311.43,459.79 319.27,458.97 327.10,458.12 334.93,457.24 342.77,456.34 350.60,455.40 358.43,454.44 366.27,453.44 374.10,452.42 381.93,451.37 389.77,450.29 397.60,449.17 405.43,448.04 413.27,446.87 421.10,445.67 428.93,444.44 436.77,443.19 444.60,441.90 444.60,451.50 436.77,452.59 428.93,453.64 421.10,454.68 413.27,455.68 405.43,456.65 397.60,457.60 389.77,458.52 381.93,459.41 374.10,460.27 366.27,461.11 358.43,461.92 350.60,462.70 342.77,463.45 334.93,464.18 327.10,464.88 319.27,465.54 311.43,466.19 303.60,466.80 295.77,467.39 287.93,467.94 280.10,468.47 272.27,468.98 264.43,469.45 256.60,469.90" fill="#dcd7ef" fill-opacity="1.0"/>
<polygon points="256.60,471.70 264.43,471.15 272.27,470.57 280.10,469.96 287.93,469.32 295.77,468.65 303.60,467.95 311.43,467.22 319.27,466.46 327.10,465.66 334.93,464.84 342.77,463.98 350.60,463.10 358.43,462.18 366.27,461.24 374.10,460.26 381.93,459.26 389.77,458.22 397.60,457.15 405.43,456.05 413.27,454.92 421.10,453.76 428.93,452.57 436.77,451.35 444.60,450.10 444.60,459.40 436.77,460.47 428.93,461.52 421.10,462.54 413.27,463.53 405.43,464.49 397.60,465.42 389.77,466.33 381.93,467.21 374.10,468.06 366.27,468.89 358.43,469.68 350.60,470.45 342.77,471.19 334.93,471.90 327.10,472.59 319.27,473.24 311.43,473.87 303.60,474.48 295.77,475.05 287.93,475.59 280.10,476.11 272.27,476.60 264.43,477.07 256.60,477.50" fill="#fcd9cc" fill-opacity="1.0"/>
<polyline points="256.60,467.30 264.43,466.80 272.27,466.27 280.10,465.71 287.93,465.12 295.77,464.50 303.60,463.85 311.43,463.17 319.27,462.47 327.10,461.73 334.93,460.97 342.77,460.17 350.60,459.35 358.43,458.50 366.27,457.62 374.10,456.71 381.93,455.77 389.77,454.80 397.60,453.80 405.43,452.77 413.27,451.72 421.10,450.63 428.93,449.52 436.77,448.37 444.60,447.20" fill="none" stroke="#5a3aa8" stroke-width="1.0" stroke-dasharray="3.4,2.5"/>
<polyline points="256.60,474.70 264.43,474.25 272.27,473.76 280.10,473.25 287.93,472.71 295.77,472.13 303.60,471.52 311.43,470.89 319.27,470.22 327.10,469.52 334.93,468.80 342.77,468.04 350.60,467.25 358.43,466.43 366.27,465.58 374.10,464.70 381.93,463.79 389.77,462.85 397.60,461.87 405.43,460.87 413.27,459.84 421.10,458.77 428.93,457.68 436.77,456.56 444.60,455.40" fill="none" stroke="#e8403c" stroke-width="1.0" stroke-dasharray="3.4,2.5"/>
<polyline points="256.60,508.60 264.43,508.43 272.27,508.25 280.10,508.08 287.93,507.90 295.77,507.73 303.60,507.55 311.43,507.38 319.27,507.20 327.10,507.02 334.93,506.85 342.77,506.68 350.60,506.50 358.43,506.32 366.27,506.15 374.10,505.98 381.93,505.80 389.77,505.62 397.60,505.45 405.43,505.27 413.27,505.10 421.10,504.92 428.93,504.75 436.77,504.57 444.60,504.40" fill="none" stroke="#7a3aa8" stroke-width="1.0"/>
<polyline points="256.60,508.40 264.43,508.23 272.27,508.06 280.10,507.89 287.93,507.72 295.77,507.55 303.60,507.38 311.43,507.20 319.27,507.03 327.10,506.86 334.93,506.69 342.77,506.52 350.60,506.35 358.43,506.18 366.27,506.01 374.10,505.84 381.93,505.67 389.77,505.50 397.60,505.32 405.43,505.15 413.27,504.98 421.10,504.81 428.93,504.64 436.77,504.47 444.60,504.30" fill="none" stroke="#d8283a" stroke-width="1.0"/>
<line x1="256.60" y1="426.70" x2="256.60" y2="516.90" stroke="#b8b8b8" stroke-width="0.8"/>
<line x1="256.60" y1="516.90" x2="444.60" y2="516.90" stroke="#b8b8b8" stroke-width="0.8"/>
<line x1="256.60" y1="427.90" x2="258.10" y2="427.90" stroke="#b8b8b8" stroke-width="0.6"/>
<text x="253.60" y="430.50" font-size="7.6" fill="#231f20" text-anchor="end">0.25</text>
<line x1="256.60" y1="453.30" x2="258.10" y2="453.30" stroke="#b8b8b8" stroke-width="0.6"/>
<text x="253.60" y="455.90" font-size="7.6" fill="#231f20" text-anchor="end">0.2</text>
<line x1="256.60" y1="480.40" x2="258.10" y2="480.40" stroke="#b8b8b8" stroke-width="0.6"/>
<text x="253.60" y="483.00" font-size="7.6" fill="#231f20" text-anchor="end">0.15</text>
<line x1="256.60" y1="507.10" x2="258.10" y2="507.10" stroke="#b8b8b8" stroke-width="0.6"/>
<text x="253.60" y="509.70" font-size="7.6" fill="#231f20" text-anchor="end">0.1</text>
<text x="256.60" y="526.00" font-size="7.6" fill="#231f20" text-anchor="middle">1</text>
<line x1="294.20" y1="516.90" x2="294.20" y2="515.40" stroke="#b8b8b8" stroke-width="0.6"/>
<text x="294.20" y="526.00" font-size="7.6" fill="#231f20" text-anchor="middle">1.002</text>
<line x1="331.80" y1="516.90" x2="331.80" y2="515.40" stroke="#b8b8b8" stroke-width="0.6"/>
<text x="331.80" y="526.00" font-size="7.6" fill="#231f20" text-anchor="middle">1.004</text>
<line x1="369.40" y1="516.90" x2="369.40" y2="515.40" stroke="#b8b8b8" stroke-width="0.6"/>
<text x="369.40" y="526.00" font-size="7.6" fill="#231f20" text-anchor="middle">1.006</text>
<line x1="407.00" y1="516.90" x2="407.00" y2="515.40" stroke="#b8b8b8" stroke-width="0.6"/>
<text x="407.00" y="526.00" font-size="7.6" fill="#231f20" text-anchor="middle">1.008</text>
<text x="444.60" y="526.00" font-size="7.6" fill="#231f20" text-anchor="middle">1.01</text>
<text x="350.60" y="535.60" font-size="8.5" fill="#231f20" text-anchor="middle"><tspan font-style="italic">λ</tspan> [-]</text>
<text transform="translate(238.50,472.60) rotate(-90)" font-size="8.0" fill="#231f20" text-anchor="middle"><tspan font-style="italic">ρ</tspan> [Ω·m]</text>
<rect x="262.90" y="430.90" width="13.2" height="6" fill="#c41e30"/>
<rect x="262.90" y="442.40" width="13.2" height="6" fill="#5c2a98"/>
<text x="279.20" y="436.00" font-size="7.2" fill="#231f20" text-anchor="start">0.2 mm</text>
<text x="279.20" y="447.50" font-size="7.2" fill="#231f20" text-anchor="start">0.3 mm</text>
<line x1="325.50" y1="433.70" x2="338.60" y2="433.70" stroke="#333" stroke-width="1.4"/>
<line x1="325.50" y1="445.40" x2="338.60" y2="445.40" stroke="#333" stroke-width="1.4" stroke-dasharray="3,2"/>
<text x="343.20" y="436.10" font-size="7.2" fill="#231f20" text-anchor="start">Longitudinal</text>
<text x="343.20" y="447.80" font-size="7.2" fill="#231f20" text-anchor="start">Transverse</text>
<polygon points="481.60,485.20 489.36,484.65 497.12,484.09 504.88,483.51 512.63,482.92 520.39,482.32 528.15,481.70 535.91,481.07 543.67,480.42 551.42,479.76 559.18,479.09 566.94,478.40 574.70,477.70 582.46,476.98 590.22,476.26 597.98,475.51 605.73,474.76 613.49,473.98 621.25,473.20 629.01,472.40 636.77,471.59 644.52,470.76 652.28,469.92 660.04,469.07 667.80,468.20 667.80,483.40 660.04,483.93 652.28,484.45 644.52,484.95 636.77,485.45 629.01,485.94 621.25,486.41 613.49,486.88 605.73,487.33 597.98,487.78 590.22,488.21 582.46,488.64 574.70,489.05 566.94,489.45 559.18,489.85 551.42,490.23 543.67,490.60 535.91,490.96 528.15,491.31 520.39,491.65 512.63,491.98 504.88,492.30 497.12,492.61 489.36,492.91 481.60,493.20" fill="#e3f3f1" fill-opacity="1.0"/>
<polygon points="481.60,470.80 489.36,470.23 497.12,469.63 504.88,469.00 512.63,468.34 520.39,467.66 528.15,466.95 535.91,466.21 543.67,465.44 551.42,464.65 559.18,463.83 566.94,462.98 574.70,462.10 582.46,461.19 590.22,460.26 597.98,459.30 605.73,458.31 613.49,457.29 621.25,456.25 629.01,455.18 636.77,454.08 644.52,452.95 652.28,451.79 660.04,450.61 667.80,449.40 667.80,458.90 660.04,459.86 652.28,460.79 644.52,461.71 636.77,462.60 629.01,463.47 621.25,464.32 613.49,465.16 605.73,465.97 597.98,466.76 590.22,467.52 582.46,468.27 574.70,469.00 566.94,469.71 559.18,470.39 551.42,471.06 543.67,471.70 535.91,472.32 528.15,472.93 520.39,473.51 512.63,474.07 504.88,474.61 497.12,475.12 489.36,475.62 481.60,476.10" fill="#fcd9cc" fill-opacity="1.0"/>
<polyline points="481.60,490.60 489.36,490.20 497.12,489.80 504.88,489.38 512.63,488.95 520.39,488.51 528.15,488.06 535.91,487.60 543.67,487.13 551.42,486.65 559.18,486.16 566.94,485.66 574.70,485.15 582.46,484.63 590.22,484.10 597.98,483.55 605.73,483.00 613.49,482.44 621.25,481.86 629.01,481.28 636.77,480.68 644.52,480.08 652.28,479.46 660.04,478.84 667.80,478.20" fill="none" stroke="#58bcbc" stroke-width="1.0" stroke-dasharray="3.4,2.5"/>
<polyline points="481.60,474.00 489.36,473.49 497.12,472.95 504.88,472.39 512.63,471.81 520.39,471.20 528.15,470.56 535.91,469.90 543.67,469.22 551.42,468.52 559.18,467.78 566.94,467.03 574.70,466.25 582.46,465.45 590.22,464.62 597.98,463.77 605.73,462.89 613.49,461.99 621.25,461.06 629.01,460.11 636.77,459.14 644.52,458.14 652.28,457.12 660.04,456.07 667.80,455.00" fill="none" stroke="#e8403c" stroke-width="1.0" stroke-dasharray="3.4,2.5"/>
<polyline points="481.60,507.60 489.36,507.42 497.12,507.23 504.88,507.05 512.63,506.87 520.39,506.68 528.15,506.50 535.91,506.32 543.67,506.13 551.42,505.95 559.18,505.77 566.94,505.58 574.70,505.40 582.46,505.22 590.22,505.03 597.98,504.85 605.73,504.67 613.49,504.48 621.25,504.30 629.01,504.12 636.77,503.93 644.52,503.75 652.28,503.57 660.04,503.38 667.80,503.20" fill="none" stroke="#e0303c" stroke-width="1.0"/>
<polyline points="481.60,509.70 489.36,509.52 497.12,509.33 504.88,509.15 512.63,508.97 520.39,508.78 528.15,508.60 535.91,508.42 543.67,508.23 551.42,508.05 559.18,507.87 566.94,507.68 574.70,507.50 582.46,507.32 590.22,507.13 597.98,506.95 605.73,506.77 613.49,506.58 621.25,506.40 629.01,506.22 636.77,506.03 644.52,505.85 652.28,505.67 660.04,505.48 667.80,505.30" fill="none" stroke="#58bcbc" stroke-width="1.0"/>
<line x1="481.60" y1="427.00" x2="481.60" y2="516.00" stroke="#b8b8b8" stroke-width="0.8"/>
<line x1="481.60" y1="516.00" x2="667.80" y2="516.00" stroke="#b8b8b8" stroke-width="0.8"/>
<line x1="481.60" y1="427.90" x2="483.10" y2="427.90" stroke="#b8b8b8" stroke-width="0.6"/>
<text x="478.60" y="430.50" font-size="7.6" fill="#231f20" text-anchor="end">0.25</text>
<line x1="481.60" y1="453.30" x2="483.10" y2="453.30" stroke="#b8b8b8" stroke-width="0.6"/>
<text x="478.60" y="455.90" font-size="7.6" fill="#231f20" text-anchor="end">0.2</text>
<line x1="481.60" y1="479.60" x2="483.10" y2="479.60" stroke="#b8b8b8" stroke-width="0.6"/>
<text x="478.60" y="482.20" font-size="7.6" fill="#231f20" text-anchor="end">0.15</text>
<line x1="481.60" y1="505.80" x2="483.10" y2="505.80" stroke="#b8b8b8" stroke-width="0.6"/>
<text x="478.60" y="508.40" font-size="7.6" fill="#231f20" text-anchor="end">0.1</text>
<text x="481.60" y="524.80" font-size="7.6" fill="#231f20" text-anchor="middle">1</text>
<line x1="518.84" y1="516.00" x2="518.84" y2="514.50" stroke="#b8b8b8" stroke-width="0.6"/>
<text x="518.84" y="524.80" font-size="7.6" fill="#231f20" text-anchor="middle">1.002</text>
<line x1="556.08" y1="516.00" x2="556.08" y2="514.50" stroke="#b8b8b8" stroke-width="0.6"/>
<text x="556.08" y="524.80" font-size="7.6" fill="#231f20" text-anchor="middle">1.004</text>
<line x1="593.32" y1="516.00" x2="593.32" y2="514.50" stroke="#b8b8b8" stroke-width="0.6"/>
<text x="593.32" y="524.80" font-size="7.6" fill="#231f20" text-anchor="middle">1.006</text>
<line x1="630.56" y1="516.00" x2="630.56" y2="514.50" stroke="#b8b8b8" stroke-width="0.6"/>
<text x="630.56" y="524.80" font-size="7.6" fill="#231f20" text-anchor="middle">1.008</text>
<text x="667.80" y="524.80" font-size="7.6" fill="#231f20" text-anchor="middle">1.01</text>
<text x="575.00" y="534.70" font-size="8.5" fill="#231f20" text-anchor="middle"><tspan font-style="italic">λ</tspan> [-]</text>
<text transform="translate(462.50,470.80) rotate(-90)" font-size="8.0" fill="#231f20" text-anchor="middle"><tspan font-style="italic">ρ</tspan> [Ω·m]</text>
<rect x="487.10" y="430.90" width="13.2" height="6" fill="#c41e30"/>
<rect x="487.10" y="442.40" width="13.2" height="6" fill="#78cccc"/>
<text x="503.40" y="436.00" font-size="7.2" fill="#231f20" text-anchor="start">0.4 mm</text>
<text x="503.40" y="447.50" font-size="7.2" fill="#231f20" text-anchor="start">0.6 mm</text>
<line x1="550.50" y1="433.10" x2="563.60" y2="433.10" stroke="#333" stroke-width="1.4"/>
<line x1="550.50" y1="445.40" x2="563.60" y2="445.40" stroke="#333" stroke-width="1.4" stroke-dasharray="3,2"/>
<text x="567.60" y="435.50" font-size="7.2" fill="#231f20" text-anchor="start">Longitudinal</text>
<text x="567.60" y="447.80" font-size="7.2" fill="#231f20" text-anchor="start">Transverse</text>
<polygon points="71.90,847.50 227.30,753.30 266.50,729.50 266.50,744.10 227.30,761.50" fill="#f8d0d0" fill-opacity="0.85"/>
<polygon points="71.90,847.50 227.30,759.50 266.50,742.50 266.50,750.20 227.30,762.50" fill="#c8c8c8" fill-opacity="0.8"/>
<polyline points="71.90,847.50 227.30,760.90 266.50,744.90" fill="none" stroke="#2a2a2a" stroke-width="1.3"/>
<polyline points="71.90,847.50 227.30,757.80 266.50,736.80" fill="none" stroke="#e0305a" stroke-width="1.7" stroke-dasharray="5,3.2"/>
<polyline points="71.90,847.50 227.30,756.40 266.50,731.20" fill="none" stroke="#78c8e8" stroke-width="1.3" stroke-dasharray="1.2,1.2"/>
<line x1="71.90" y1="728.60" x2="71.90" y2="847.50" stroke="#b8b8b8" stroke-width="0.8"/>
<line x1="71.90" y1="847.50" x2="266.50" y2="847.50" stroke="#b8b8b8" stroke-width="0.8"/>
<text x="66.60" y="733.30" font-size="12.2" fill="#231f20" text-anchor="end">20</text>
<line x1="71.90" y1="729.30" x2="73.70" y2="729.30" stroke="#b8b8b8" stroke-width="0.6"/>
<text x="66.60" y="762.80" font-size="12.2" fill="#231f20" text-anchor="end">15</text>
<line x1="71.90" y1="758.80" x2="73.70" y2="758.80" stroke="#b8b8b8" stroke-width="0.6"/>
<text x="66.60" y="792.30" font-size="12.2" fill="#231f20" text-anchor="end">10</text>
<line x1="71.90" y1="788.30" x2="73.70" y2="788.30" stroke="#b8b8b8" stroke-width="0.6"/>
<text x="66.60" y="821.80" font-size="12.2" fill="#231f20" text-anchor="end">5</text>
<line x1="71.90" y1="817.80" x2="73.70" y2="817.80" stroke="#b8b8b8" stroke-width="0.6"/>
<text x="66.60" y="851.30" font-size="12.2" fill="#231f20" text-anchor="end">0</text>
<text x="72.20" y="859.70" font-size="11.5" fill="#231f20" text-anchor="middle">1</text>
<text x="109.00" y="859.70" font-size="11.5" fill="#231f20" text-anchor="middle">1.002</text>
<text x="147.50" y="859.70" font-size="11.5" fill="#231f20" text-anchor="middle">1.004</text>
<text x="188.80" y="859.70" font-size="11.5" fill="#231f20" text-anchor="middle">1.006</text>
<text x="227.30" y="859.70" font-size="11.5" fill="#231f20" text-anchor="middle">1.008</text>
<text x="263.40" y="859.70" font-size="11.5" fill="#231f20" text-anchor="middle">1.01</text>
<line x1="110.80" y1="847.50" x2="110.80" y2="845.70" stroke="#b8b8b8" stroke-width="0.6"/>
<line x1="149.60" y1="847.50" x2="149.60" y2="845.70" stroke="#b8b8b8" stroke-width="0.6"/>
<line x1="188.50" y1="847.50" x2="188.50" y2="845.70" stroke="#b8b8b8" stroke-width="0.6"/>
<line x1="227.30" y1="847.50" x2="227.30" y2="845.70" stroke="#b8b8b8" stroke-width="0.6"/>
<text x="173.00" y="874.00" font-size="14" fill="#231f20" text-anchor="middle"><tspan font-style="italic">λ</tspan> [-]</text>
<text transform="translate(52.20,789.80) rotate(-90)" font-size="13.4" fill="#231f20" text-anchor="middle"><tspan font-style="italic">σ</tspan> [MPa]</text>
<line x1="80.30" y1="741.40" x2="107.70" y2="741.40" stroke="#7cc8e4" stroke-width="2.2" stroke-dasharray="2.6,1.7"/>
<line x1="80.30" y1="761.50" x2="107.70" y2="761.50" stroke="#e0305a" stroke-width="2.4" stroke-dasharray="6,5"/>
<line x1="80.30" y1="781.20" x2="107.70" y2="781.20" stroke="#2a2a2a" stroke-width="2.6"/>
<text x="117.00" y="745.90" font-size="11.6" fill="#231f20" text-anchor="start" textLength="62.60" lengthAdjust="spacingAndGlyphs">Stack (0º/90º)</text>
<text x="117.00" y="764.00" font-size="11.6" fill="#231f20" text-anchor="start">Stack (-45º/45º)</text>
<text x="117.00" y="783.00" font-size="11.6" fill="#231f20" text-anchor="start">Oblique</text>
<polygon points="333.00,808.90 341.10,807.29 349.20,805.67 357.30,804.02 365.40,802.36 373.50,800.68 381.60,798.99 389.70,797.27 397.80,795.54 405.90,793.80 414.00,792.03 422.10,790.25 430.20,788.45 438.30,786.63 446.40,784.80 454.50,782.95 462.60,781.08 470.70,779.19 478.80,777.29 486.90,775.37 495.00,773.43 503.10,771.47 511.20,769.50 519.30,767.51 527.40,765.50 527.40,794.60 519.30,796.48 511.20,798.34 503.10,800.18 495.00,802.01 486.90,803.82 478.80,805.61 470.70,807.39 462.60,809.14 454.50,810.88 446.40,812.61 438.30,814.31 430.20,816.00 422.10,817.67 414.00,819.32 405.90,820.96 397.80,822.58 389.70,824.18 381.60,825.76 373.50,827.33 365.40,828.88 357.30,830.41 349.20,831.92 341.10,833.42 333.00,834.90" fill="#fbdada" fill-opacity="1.0"/>
<polygon points="333.00,812.00 341.10,809.95 349.20,807.88 357.30,805.80 365.40,803.69 373.50,801.57 381.60,799.44 389.70,797.28 397.80,795.11 405.90,792.92 414.00,790.72 422.10,788.49 430.20,786.25 438.30,783.99 446.40,781.72 454.50,779.42 462.60,777.11 470.70,774.78 478.80,772.44 486.90,770.07 495.00,767.69 503.10,765.30 511.20,762.88 519.30,760.45 527.40,758.00 527.40,786.00 519.30,788.07 511.20,790.13 503.10,792.17 495.00,794.19 486.90,796.20 478.80,798.19 470.70,800.16 462.60,802.11 454.50,804.05 446.40,805.97 438.30,807.87 430.20,809.75 422.10,811.62 414.00,813.47 405.90,815.30 397.80,817.11 389.70,818.91 381.60,820.69 373.50,822.45 365.40,824.19 357.30,825.92 349.20,827.63 341.10,829.32 333.00,831.00" fill="#b8d4e0" fill-opacity="0.45"/>
<polygon points="333.00,796.00 342.73,793.93 352.45,791.83 362.18,789.71 371.90,787.56 381.62,785.39 391.35,783.20 401.08,780.99 410.80,778.75 420.52,776.49 430.25,774.20 439.98,771.89 449.70,769.56 459.43,767.21 469.15,764.83 478.88,762.43 488.60,760.00 495.07,757.42 501.53,754.83 508.00,752.25 514.47,749.67 520.93,747.08 527.40,744.50 527.40,765.00 520.93,767.08 514.47,769.17 508.00,771.25 501.53,773.33 495.07,775.42 488.60,777.50 478.88,779.83 469.15,782.14 459.43,784.43 449.70,786.69 439.98,788.93 430.25,791.14 420.52,793.33 410.80,795.50 401.08,797.64 391.35,799.77 381.62,801.86 371.90,803.94 362.18,805.99 352.45,808.02 342.73,810.02 333.00,812.00" fill="#a9a7a7" fill-opacity="0.5"/>
<polyline points="333.00,805.40 342.73,803.34 352.45,801.27 362.18,799.16 371.90,797.04 381.62,794.89 391.35,792.72 401.08,790.52 410.80,788.30 420.52,786.06 430.25,783.79 439.98,781.50 449.70,779.19 459.43,776.85 469.15,774.49 478.88,772.11 488.60,769.70 527.40,757.40" fill="none" stroke="#2e3a38" stroke-width="1.4"/>
<polyline points="333.00,825.90 341.10,823.80 349.20,821.70 357.30,819.58 365.40,817.45 373.50,815.31 381.60,813.16 389.70,811.00 397.80,808.83 405.90,806.65 414.00,804.46 422.10,802.26 430.20,800.05 438.30,797.83 446.40,795.60 454.50,793.35 462.60,791.10 470.70,788.84 478.80,786.56 486.90,784.28 495.00,781.98 503.10,779.68 511.20,777.36 519.30,775.04 527.40,772.70" fill="none" stroke="#7cbcd8" stroke-width="1.2" stroke-dasharray="1.2,1.2"/>
<polyline points="333.00,825.90 341.10,824.32 349.20,822.72 357.30,821.12 365.40,819.50 373.50,817.87 381.60,816.24 389.70,814.59 397.80,812.93 405.90,811.27 414.00,809.59 422.10,807.90 430.20,806.20 438.30,804.49 446.40,802.77 454.50,801.04 462.60,799.30 470.70,797.55 478.80,795.79 486.90,794.02 495.00,792.23 503.10,790.44 511.20,788.64 519.30,786.82 527.40,785.00" fill="none" stroke="#e0405a" stroke-width="1.3" stroke-dasharray="4.5,3"/>
<line x1="333.00" y1="728.20" x2="333.00" y2="847.10" stroke="#b8b8b8" stroke-width="0.8"/>
<line x1="333.00" y1="847.10" x2="527.40" y2="847.10" stroke="#b8b8b8" stroke-width="0.8"/>
<text x="328.60" y="732.70" font-size="12.4" fill="#231f20" text-anchor="end">0.14</text>
<line x1="333.00" y1="728.40" x2="334.80" y2="728.40" stroke="#b8b8b8" stroke-width="0.6"/>
<text x="328.60" y="772.30" font-size="12.4" fill="#231f20" text-anchor="end">0.13</text>
<line x1="333.00" y1="768.00" x2="334.80" y2="768.00" stroke="#b8b8b8" stroke-width="0.6"/>
<text x="328.60" y="811.90" font-size="12.4" fill="#231f20" text-anchor="end">0.12</text>
<line x1="333.00" y1="807.60" x2="334.80" y2="807.60" stroke="#b8b8b8" stroke-width="0.6"/>
<text x="328.60" y="851.40" font-size="12.4" fill="#231f20" text-anchor="end">0.11</text>
<line x1="333.00" y1="847.10" x2="334.80" y2="847.10" stroke="#b8b8b8" stroke-width="0.6"/>
<text x="334.50" y="858.40" font-size="11.5" fill="#231f20" text-anchor="middle">1</text>
<text x="372.90" y="858.40" font-size="11.5" fill="#231f20" text-anchor="middle">1.002</text>
<text x="410.70" y="858.40" font-size="11.5" fill="#231f20" text-anchor="middle">1.004</text>
<text x="448.30" y="858.40" font-size="11.5" fill="#231f20" text-anchor="middle">1.006</text>
<text x="485.50" y="858.40" font-size="11.5" fill="#231f20" text-anchor="middle">1.008</text>
<text x="522.30" y="858.40" font-size="11.5" fill="#231f20" text-anchor="middle">1.01</text>
<line x1="371.88" y1="847.10" x2="371.88" y2="845.30" stroke="#b8b8b8" stroke-width="0.6"/>
<line x1="410.76" y1="847.10" x2="410.76" y2="845.30" stroke="#b8b8b8" stroke-width="0.6"/>
<line x1="449.64" y1="847.10" x2="449.64" y2="845.30" stroke="#b8b8b8" stroke-width="0.6"/>
<line x1="488.52" y1="847.10" x2="488.52" y2="845.30" stroke="#b8b8b8" stroke-width="0.6"/>
<line x1="527.40" y1="847.10" x2="527.40" y2="845.30" stroke="#b8b8b8" stroke-width="0.6"/>
<text x="429.00" y="874.30" font-size="14" fill="#231f20" text-anchor="middle"><tspan font-style="italic">λ</tspan> [-]</text>
<text transform="translate(297.40,787.80) rotate(-90)" font-size="13.5" fill="#231f20" text-anchor="middle"><tspan font-style="italic">ρ</tspan> [Ω·m]</text>
<polygon points="298.60,84.60 321.90,81.90 321.90,146.00 300.60,151.20" fill="#f7c3d5" fill-opacity="0.95"/>
<polygon points="411.00,92.00 427.80,87.20 427.80,150.50 411.00,168.30" fill="#b9d9f2" fill-opacity="0.95"/>
<polygon points="413.70,90.70 424.70,88.30 424.00,155.20 411.50,159.60" fill="#0a7a94" stroke="#0a7a94" stroke-width="0.6"/>
<polygon points="303.60,87.60 413.70,90.70 411.50,159.60 306.40,143.50" fill="#05687b" stroke="#05687b" stroke-width="0.3"/>
<g clip-path="url(#cp1)">
<ellipse cx="354" cy="118" rx="48" ry="40" fill="url(#rg2)"/>
<ellipse cx="333" cy="119" rx="11" ry="17" fill="url(#rg3)"/>
<ellipse cx="377" cy="122" rx="11" ry="17" fill="url(#rg4)"/>
<ellipse cx="354" cy="92" rx="14" ry="15" fill="url(#rg5)"/>
<ellipse cx="354.3" cy="148" rx="14" ry="30" fill="url(#rg6)"/>
<ellipse cx="354.3" cy="134" rx="7" ry="8" fill="url(#rg7)"/>
<circle cx="353.8" cy="96" r="1.6" fill="#9a1414"/>
<circle cx="354.3" cy="131.2" r="1.4" fill="#8a1414"/>
</g>
<polygon points="303.60,87.60 320.70,85.00 424.70,88.30 413.70,90.70" fill="#0c7282"/>
<path d="M353.90,97.30 Q361.88,111.63 375.80,121.80 Q361.74,123.58 353.50,130.50 Q346.62,122.32 333.80,118.30 Q346.76,110.37 353.90,97.30 Z" fill="#1d1a56"/>
<path d="M353.90,97.30 L349.00,113.00 L333.80,118.30 Q346.76,110.37 353.90,97.30Z" fill="url(#lg8)"/>
<path d="M349.00,113.00 L358.30,105.60 Q361.84,108.61 375.80,121.80 L365.30,123.50 Q357.15,116.25 349.00,113.00Z" fill="#a9a9ca"/>
<line x1="319.60" y1="156.30" x2="374.61" y2="164.91" stroke="#c8283c" stroke-width="1.5"/>
<polygon points="383.50,166.30 372.96,169.00 376.09,165.14 374.29,160.51" fill="#c8283c"/>
<text x="343.20" y="179.30" font-size="20" fill="#c8283c"><tspan>λ</tspan><tspan dx="0.40" dy="6.00" font-size="12.40">y</tspan></text>
<text x="307.00" y="79.50" font-size="14.5" fill="#f4a6c6">V<tspan dy="-4.79" font-size="8.99">+</tspan></text>
<text x="419.20" y="83.00" font-size="13.5" fill="#8cc4ea">V<tspan dy="-4.46" font-size="8.37">-</tspan></text>
<text x="324.40" y="53.40" font-size="14" fill="#231f20" text-anchor="start" textLength="75.90" lengthAdjust="spacingAndGlyphs">Non-adhesion</text>
<line x1="319.40" y1="58.10" x2="407.00" y2="58.10" stroke="#231f20" stroke-width="1.3"/>
<polygon points="474.60,84.30 497.40,81.30 497.40,146.00 477.00,150.30" fill="#f7c3d5" fill-opacity="0.95"/>
<polygon points="586.00,92.00 602.00,86.50 602.00,149.80 585.80,167.80" fill="#b9d9f2" fill-opacity="0.95"/>
<polygon points="587.00,90.70 599.20,88.00 598.80,152.20 586.60,159.60" fill="#1f6496" stroke="#1f6496" stroke-width="0.6"/>
<polygon points="478.00,87.40 587.00,90.70 586.60,159.60 480.80,144.30" fill="#1e4b7c" stroke="#1e4b7c" stroke-width="0.3"/>
<g clip-path="url(#cp9)">
<ellipse cx="528" cy="118" rx="30" ry="22" fill="url(#rg10)"/>
<path d="M525.00,130.00 L532.00,130.00 L548.50,164.00 L508.50,164.00Z" fill="url(#lg11)" filter="url(#blur15)"/>
<path d="M525.50,96.00 L531.50,96.00 L539.50,84.00 L517.50,84.00Z" fill="url(#lg12)" filter="url(#blur15)"/>
<ellipse cx="528.5" cy="90" rx="4.8" ry="9" fill="url(#rg13)"/>
<rect x="524.60" y="131.00" width="7.20" height="31.00" fill="url(#lg14)" mask="url(#m15)"/>
<ellipse cx="528.0" cy="150" rx="5" ry="14" fill="url(#rg17)"/>
</g>
<polygon points="478.00,87.40 495.00,84.60 599.20,88.00 587.00,90.70" fill="#22508a"/>
<polyline points="479.70,114.30 507.00,118.60 548.70,120.80 587.00,125.20 598.40,119.10" fill="none" stroke="#2a2458" stroke-width="0.9"/>
<path d="M527.60,95.50 Q535.19,110.28 548.60,120.50 Q534.86,122.88 526.70,130.50 Q520.21,122.02 507.90,118.10 Q520.54,109.42 527.60,95.50 Z" fill="#1d1a56"/>
<path d="M527.60,95.50 L523.60,112.10 L507.90,118.10 Q520.54,109.42 527.60,95.50Z" fill="url(#lg18)"/>
<path d="M523.60,112.10 L533.30,105.10 Q535.77,107.69 548.60,120.50 L541.20,123.50 Q532.40,115.80 523.60,112.10Z" fill="#a9a9ca"/>
<line x1="494.00" y1="155.20" x2="549.13" y2="164.76" stroke="#c8283c" stroke-width="1.5"/>
<polygon points="558.00,166.30 547.41,168.83 550.61,165.02 548.88,160.35" fill="#c8283c"/>
<text x="518.50" y="178.20" font-size="20" fill="#c8283c"><tspan>λ</tspan><tspan dx="0.40" dy="6.00" font-size="12.40">y</tspan></text>
<text x="484.00" y="78.60" font-size="14.5" fill="#f4a6c6">V<tspan dy="-4.79" font-size="8.99">+</tspan></text>
<text x="594.70" y="83.00" font-size="13.5" fill="#8cc4ea">V<tspan dy="-4.46" font-size="8.37">-</tspan></text>
<text x="512.80" y="53.40" font-size="14" fill="#231f20" text-anchor="start" textLength="51.40" lengthAdjust="spacingAndGlyphs">Adhesion</text>
<line x1="491.90" y1="58.10" x2="581.40" y2="58.10" stroke="#231f20" stroke-width="1.3"/>
<rect x="618.8" y="43.7" width="8.600000000000023" height="128.7" fill="url(#lg19)"/>
<line x1="627.40" y1="43.70" x2="630.60" y2="43.70" stroke="#231f20" stroke-width="0.7"/>
<text x="633.20" y="48.70" font-size="12.7" fill="#231f20" text-anchor="start">11</text>
<line x1="627.40" y1="55.40" x2="630.60" y2="55.40" stroke="#231f20" stroke-width="0.7"/>
<text x="633.20" y="64.50" font-size="12.7" fill="#231f20" text-anchor="start">10</text>
<line x1="627.40" y1="78.80" x2="630.60" y2="78.80" stroke="#231f20" stroke-width="0.7"/>
<text x="633.20" y="85.80" font-size="12.7" fill="#231f20" text-anchor="start">8</text>
<line x1="627.40" y1="102.20" x2="630.60" y2="102.20" stroke="#231f20" stroke-width="0.7"/>
<text x="633.20" y="108.10" font-size="12.7" fill="#231f20" text-anchor="start">6</text>
<line x1="627.40" y1="125.60" x2="630.60" y2="125.60" stroke="#231f20" stroke-width="0.7"/>
<text x="633.20" y="131.40" font-size="12.7" fill="#231f20" text-anchor="start">4</text>
<line x1="627.40" y1="149.00" x2="630.60" y2="149.00" stroke="#231f20" stroke-width="0.7"/>
<text x="633.20" y="154.40" font-size="12.7" fill="#231f20" text-anchor="start">2</text>
<line x1="627.40" y1="172.40" x2="630.60" y2="172.40" stroke="#231f20" stroke-width="0.7"/>
<text x="633.20" y="176.70" font-size="12.7" fill="#231f20" text-anchor="start">0</text>
<text transform="translate(673.50,100.30) rotate(-90)" font-size="13" fill="#231f20" text-anchor="middle">J<tspan dy="3.64" font-size="8.45">y</tspan><tspan dy="-3.64"> [mA mm</tspan><tspan dy="-4.29" font-size="8.06">-2</tspan><tspan dy="4.29">]</tspan></text>
<polygon points="12.00,341.50 28.90,340.00 28.90,384.00 13.50,387.00" fill="#f7c3d5" fill-opacity="0.95"/>
<polygon points="90.00,347.50 102.20,343.30 102.20,392.00 90.00,399.70" fill="#b9d9f2" fill-opacity="0.95"/>
<polygon points="91.50,346.40 100.40,344.30 100.40,390.90 91.50,394.90" fill="#22639a" stroke="#22639a" stroke-width="0.6"/>
<polygon points="14.50,344.30 91.50,346.40 91.50,394.90 16.10,383.70" fill="#1f4f82" stroke="#1f4f82" stroke-width="0.3"/>
<g clip-path="url(#cp20)">
<ellipse cx="49.5" cy="362.85" rx="14" ry="12" fill="url(#rg21)"/>
<ellipse cx="49.5" cy="347.15" rx="3.4" ry="5.650000000000006" fill="url(#rg22)"/>
<path d="M46.50,374.90 L52.50,374.90 L64.50,393.50 L34.50,393.50Z" fill="url(#lg23)" filter="url(#blur15)"/>
<path d="M47.50,350.80 L51.50,350.80 L56.50,341.50 L42.50,341.50Z" fill="url(#lg24)" filter="url(#blur15)"/>
<rect x="47.10" y="375.90" width="4.80" height="16.60" fill="url(#lg25)" mask="url(#m26)"/>
</g>
<polygon points="14.50,344.30 25.70,342.40 100.40,344.30 91.50,346.40" fill="#22578a"/>
<polyline points="15.30,363.60 35.70,366.00 64.20,367.60 91.50,370.80 100.40,368.40" fill="none" stroke="#2a2458" stroke-width="0.9"/>
<path d="M49.80,350.80 Q54.95,360.78 64.20,367.60 Q54.66,369.45 49.00,374.90 Q44.40,368.88 35.70,366.00 Q44.69,360.20 49.80,350.80 Z" fill="#1d1a56"/>
<path d="M49.80,350.80 L46.60,362.00 L35.70,366.00 Q44.69,360.20 49.80,350.80Z" fill="url(#lg28)"/>
<path d="M46.60,362.00 L53.00,356.40 Q55.09,358.59 64.20,367.60 L60.20,369.20 Q53.40,363.60 46.60,362.00Z" fill="#a9a9ca"/>
<line x1="30.50" y1="392.50" x2="65.48" y2="398.26" stroke="#c8283c" stroke-width="1.2"/>
<polygon points="71.20,399.20 64.00,401.06 66.17,398.37 64.98,395.14" fill="#c8283c"/>
<text x="44.60" y="403.80" font-size="9.6" fill="#c8283c"><tspan>λ</tspan><tspan dx="0.19" dy="2.88" font-size="5.95">y</tspan></text>
<text x="12.00" y="339.50" font-size="9.2" fill="#f4a6c6">V<tspan dy="-3.04" font-size="5.70">+</tspan></text>
<text x="99.60" y="342.00" font-size="8.6" fill="#8cc4ea">V<tspan dy="-2.84" font-size="5.33">-</tspan></text>
<text x="35.70" y="325.60" font-size="13.5" fill="#231f20" text-anchor="start" textLength="46.50" lengthAdjust="spacingAndGlyphs">Big pore</text>
<line x1="30.80" y1="330.20" x2="86.70" y2="330.20" stroke="#231f20" stroke-width="1.3"/>
<polygon points="122.50,347.50 138.90,345.50 138.90,388.00 124.00,391.70" fill="#f7c3d5" fill-opacity="0.95"/>
<polygon points="200.70,351.00 212.80,347.60 212.80,396.00 200.70,403.00" fill="#b9d9f2" fill-opacity="0.95"/>
<polygon points="201.50,350.00 211.20,348.00 211.20,394.90 201.50,398.90" fill="#1a749c" stroke="#1a749c" stroke-width="0.6"/>
<polygon points="124.80,348.40 201.50,350.00 201.50,398.90 126.00,387.70" fill="#195f86" stroke="#195f86" stroke-width="0.3"/>
<g clip-path="url(#cp29)">
<ellipse cx="160" cy="367.1" rx="11" ry="8" fill="url(#rg30)"/>
<ellipse cx="160" cy="355.05" rx="3.74" ry="9.550000000000011" fill="url(#rg31)"/>
<path d="M157.00,371.60 L163.00,371.60 L176.50,397.00 L143.50,397.00Z" fill="url(#lg32)" filter="url(#blur15)"/>
<path d="M158.00,362.60 L162.00,362.60 L167.70,345.50 L152.30,345.50Z" fill="url(#lg33)" filter="url(#blur15)"/>
<rect x="157.36" y="372.60" width="5.28" height="23.40" fill="url(#lg34)" mask="url(#m35)"/>
</g>
<polygon points="124.80,348.40 136.50,346.00 211.20,348.00 201.50,350.00" fill="#1b6590"/>
<polyline points="126.00,367.60 154.00,368.60 165.50,370.50 201.50,375.70 211.20,372.40" fill="none" stroke="#2a2458" stroke-width="0.9"/>
<path d="M159.90,362.60 Q161.85,367.12 165.50,370.40 Q161.67,370.36 159.40,371.60 Q157.45,370.28 153.80,370.20 Q157.63,367.04 159.90,362.60 Z" fill="#1d1a56"/>
<path d="M159.90,362.60 L159.65,368.70 L153.80,370.20 Q157.63,367.04 159.90,362.60Z" fill="url(#lg37)"/>
<line x1="141.30" y1="395.70" x2="176.87" y2="401.38" stroke="#c8283c" stroke-width="1.2"/>
<polygon points="182.60,402.30 175.41,404.19 177.56,401.50 176.36,398.26" fill="#c8283c"/>
<text x="155.60" y="407.60" font-size="9.6" fill="#c8283c"><tspan>λ</tspan><tspan dx="0.19" dy="2.88" font-size="5.95">y</tspan></text>
<text x="122.80" y="344.30" font-size="9.2" fill="#f4a6c6">V<tspan dy="-3.04" font-size="5.70">+</tspan></text>
<text x="210.40" y="346.00" font-size="8.6" fill="#8cc4ea">V<tspan dy="-2.84" font-size="5.33">-</tspan></text>
<text x="139.70" y="324.60" font-size="13.5" fill="#231f20" text-anchor="start" textLength="59.40" lengthAdjust="spacingAndGlyphs">Small pore</text>
<line x1="141.00" y1="329.40" x2="197.50" y2="329.40" stroke="#231f20" stroke-width="1.3"/>
<polygon points="243.00,345.00 260.00,343.50 260.00,387.00 244.50,391.00" fill="#f7c3d5" fill-opacity="0.95"/>
<polygon points="321.00,351.50 333.20,347.60 333.20,396.00 321.00,403.80" fill="#b9d9f2" fill-opacity="0.95"/>
<polygon points="322.50,350.40 332.20,348.40 332.20,394.90 322.50,399.70" fill="#22639a" stroke="#22639a" stroke-width="0.6"/>
<polygon points="245.40,348.40 322.50,350.40 322.50,399.70 247.00,388.50" fill="#1f4f82" stroke="#1f4f82" stroke-width="0.3"/>
<g clip-path="url(#cp38)">
<ellipse cx="281" cy="366.45" rx="14" ry="12" fill="url(#rg39)"/>
<ellipse cx="281" cy="350.75" rx="3.4" ry="5.25" fill="url(#rg40)"/>
<path d="M278.00,378.90 L284.00,378.90 L296.00,397.50 L266.00,397.50Z" fill="url(#lg41)" filter="url(#blur15)"/>
<path d="M279.00,354.00 L283.00,354.00 L288.00,345.50 L274.00,345.50Z" fill="url(#lg42)" filter="url(#blur15)"/>
<rect x="278.60" y="379.90" width="4.80" height="16.60" fill="url(#lg43)" mask="url(#m44)"/>
</g>
<polygon points="245.40,348.40 257.50,346.40 332.20,348.40 322.50,350.40" fill="#22578a"/>
<polyline points="246.20,368.40 266.30,370.00 295.20,371.60 322.50,375.70 331.40,373.30" fill="none" stroke="#2a2458" stroke-width="0.9"/>
<path d="M280.80,354.00 Q285.98,364.43 295.20,371.60 Q285.98,373.39 280.80,378.90 Q275.57,372.82 266.30,370.00 Q275.57,363.86 280.80,354.00 Z" fill="#1d1a56"/>
<path d="M280.80,354.00 L277.50,365.50 L266.30,370.00 Q275.57,363.86 280.80,354.00Z" fill="url(#lg46)"/>
<path d="M277.50,365.50 L284.00,360.00 Q286.11,362.22 295.20,371.60 L291.00,373.00 Q284.25,367.25 277.50,365.50Z" fill="#a9a9ca"/>
<line x1="261.50" y1="396.50" x2="296.97" y2="402.18" stroke="#c8283c" stroke-width="1.2"/>
<polygon points="302.70,403.10 295.51,404.99 297.66,402.29 296.46,399.06" fill="#c8283c"/>
<text x="274.80" y="408.20" font-size="9.6" fill="#c8283c"><tspan>λ</tspan><tspan dx="0.19" dy="2.88" font-size="5.95">y</tspan></text>
<text x="243.00" y="344.30" font-size="9.2" fill="#f4a6c6">V<tspan dy="-3.04" font-size="5.70">+</tspan></text>
<text x="330.60" y="346.00" font-size="8.6" fill="#8cc4ea">V<tspan dy="-2.84" font-size="5.33">-</tspan></text>
<text x="265.20" y="325.10" font-size="13.5" fill="#231f20" text-anchor="start" textLength="41.30" lengthAdjust="spacingAndGlyphs">0.2 mm</text>
<line x1="257.80" y1="329.90" x2="313.70" y2="329.90" stroke="#231f20" stroke-width="1.3"/>
<polygon points="348.60,337.00 364.00,336.60 364.00,397.00 350.00,400.50" fill="#f7c3d5" fill-opacity="0.95"/>
<polygon points="426.70,340.00 438.00,335.50 438.00,404.00 426.70,411.00" fill="#b9d9f2" fill-opacity="0.95"/>
<polygon points="428.00,339.00 437.20,337.10 437.20,404.60 427.50,407.80" fill="#22639a" stroke="#22639a" stroke-width="0.6"/>
<polygon points="350.40,338.70 428.00,339.00 427.50,407.80 353.70,397.30" fill="#1f4a80" stroke="#1f4a80" stroke-width="0.3"/>
<g clip-path="url(#cp47)">
<path d="M383.00,374.00 L389.00,374.00 L403.00,410.00 L369.00,410.00Z" fill="url(#lg48)" filter="url(#blur15)"/>
<ellipse cx="386" cy="355" rx="24" ry="22" fill="url(#rg49)"/>
<rect x="383.50" y="375.00" width="5.60" height="29.00" fill="url(#lg50)" mask="url(#m51)"/>
<ellipse cx="386.5" cy="394" rx="3.4" ry="9" fill="url(#rg53)"/>
<polygon points="350,369 430,372 430,410 350,400" fill="#1a5a88" fill-opacity="0.55"/>
</g>
<polygon points="350.40,338.70 362.00,337.00 437.20,337.10 428.00,339.00" fill="#22578a"/>
<polyline points="352.80,368.40 372.90,369.20 400.20,370.00 428.00,372.40 436.40,370.50" fill="none" stroke="#2a2458" stroke-width="0.9"/>
<path d="M385.80,341.10 Q390.33,358.60 400.20,370.00 Q390.08,368.80 385.00,374.00 Q381.62,368.55 372.90,369.20 Q381.87,358.35 385.80,341.10 Z" fill="#1d1a56"/>
<path d="M385.80,341.10 L383.00,367.50 L372.90,369.20 Q381.87,358.35 385.80,341.10Z" fill="url(#lg54)"/>
<path d="M383.00,367.50 L391.50,356.40 Q391.79,357.50 400.20,370.00 L394.60,370.80 Q388.80,367.15 383.00,367.50Z" fill="#a9a9ca"/>
<line x1="367.30" y1="405.40" x2="402.86" y2="410.74" stroke="#c8283c" stroke-width="1.2"/>
<polygon points="408.60,411.60 401.43,413.56 403.56,410.84 402.32,407.62" fill="#c8283c"/>
<text x="380.80" y="417.50" font-size="9.6" fill="#c8283c"><tspan>λ</tspan><tspan dx="0.19" dy="2.88" font-size="5.95">y</tspan></text>
<text x="343.80" y="337.20" font-size="9.2" fill="#f4a6c6">V<tspan dy="-3.04" font-size="5.70">+</tspan></text>
<text x="437.20" y="338.00" font-size="8.6" fill="#8cc4ea">V<tspan dy="-2.84" font-size="5.33">-</tspan></text>
<text x="369.70" y="324.80" font-size="13.5" fill="#231f20" text-anchor="start" textLength="41.80" lengthAdjust="spacingAndGlyphs">0.3 mm</text>
<line x1="362.50" y1="329.40" x2="418.70" y2="329.40" stroke="#231f20" stroke-width="1.3"/>
<polygon points="459.80,346.00 476.70,345.00 476.70,388.00 461.50,392.50" fill="#f7c3d5" fill-opacity="0.95"/>
<polygon points="537.70,352.00 550.50,348.40 550.50,397.00 537.70,404.60" fill="#b9d9f2" fill-opacity="0.95"/>
<polygon points="539.30,350.80 549.00,350.00 549.00,395.00 539.30,400.60" fill="#22639a" stroke="#22639a" stroke-width="0.6"/>
<polygon points="462.70,349.20 539.30,350.80 539.30,400.60 464.60,388.50" fill="#1f5082" stroke="#1f5082" stroke-width="0.3"/>
<g clip-path="url(#cp55)">
<ellipse cx="498" cy="367.25" rx="14" ry="12" fill="url(#rg56)"/>
<ellipse cx="498" cy="351.8" rx="3.4" ry="5.800000000000011" fill="url(#rg57)"/>
<path d="M495.00,378.90 L501.00,378.90 L513.00,398.00 L483.00,398.00Z" fill="url(#lg58)" filter="url(#blur15)"/>
<path d="M496.00,355.60 L500.00,355.60 L505.00,346.00 L491.00,346.00Z" fill="url(#lg59)" filter="url(#blur15)"/>
<rect x="495.60" y="379.90" width="4.80" height="17.10" fill="url(#lg60)" mask="url(#m61)"/>
</g>
<polygon points="462.70,349.20 475.00,347.30 549.00,350.00 539.30,350.80" fill="#22578a"/>
<polyline points="463.80,368.40 483.90,370.80 512.00,372.40 539.30,376.50 548.10,373.30" fill="none" stroke="#2a2458" stroke-width="0.9"/>
<path d="M497.60,355.60 Q502.83,365.52 512.00,372.40 Q502.83,373.91 497.60,378.90 Q492.72,373.33 483.90,370.80 Q492.72,364.94 497.60,355.60 Z" fill="#1d1a56"/>
<path d="M497.60,355.60 L494.50,366.50 L483.90,370.80 Q492.72,364.94 497.60,355.60Z" fill="url(#lg63)"/>
<path d="M494.50,366.50 L501.00,361.00 Q503.02,363.26 512.00,372.40 L507.50,374.00 Q501.00,368.25 494.50,366.50Z" fill="#a9a9ca"/>
<line x1="478.30" y1="397.30" x2="513.76" y2="402.55" stroke="#c8283c" stroke-width="1.2"/>
<polygon points="519.50,403.40 512.33,405.37 514.45,402.65 513.21,399.44" fill="#c8283c"/>
<text x="492.50" y="408.60" font-size="9.6" fill="#c8283c"><tspan>λ</tspan><tspan dx="0.19" dy="2.88" font-size="5.95">y</tspan></text>
<text x="459.80" y="345.10" font-size="9.2" fill="#f4a6c6">V<tspan dy="-3.04" font-size="5.70">+</tspan></text>
<text x="547.30" y="346.80" font-size="8.6" fill="#8cc4ea">V<tspan dy="-2.84" font-size="5.33">-</tspan></text>
<text x="488.70" y="325.10" font-size="13.5" fill="#231f20" text-anchor="start" textLength="41.00" lengthAdjust="spacingAndGlyphs">0.4 mm</text>
<line x1="481.00" y1="329.40" x2="537.20" y2="329.40" stroke="#231f20" stroke-width="1.3"/>
<polygon points="557.30,351.00 572.00,350.50 572.00,390.00 558.50,393.30" fill="#f7c3d5" fill-opacity="0.95"/>
<polygon points="665.00,357.50 678.40,354.30 678.40,402.00 665.00,409.40" fill="#b9d9f2" fill-opacity="0.95"/>
<polygon points="667.00,356.60 676.50,355.30 676.50,399.90 667.00,404.60" fill="#16739c" stroke="#16739c" stroke-width="0.6"/>
<polygon points="558.80,353.40 667.00,356.60 667.00,404.60 560.70,392.30" fill="#10608a" stroke="#10608a" stroke-width="0.3"/>
<g clip-path="url(#cp64)">
<ellipse cx="606.5" cy="369.79999999999995" rx="13" ry="9" fill="url(#rg65)"/>
<ellipse cx="606.5" cy="357.95" rx="3.4" ry="6.949999999999989" fill="url(#rg66)"/>
<path d="M603.50,376.70 L609.50,376.70 L621.50,402.00 L591.50,402.00Z" fill="url(#lg67)" filter="url(#blur15)"/>
<path d="M604.50,362.90 L608.50,362.90 L613.50,351.00 L599.50,351.00Z" fill="url(#lg68)" filter="url(#blur15)"/>
<rect x="604.10" y="377.70" width="4.80" height="23.30" fill="url(#lg69)" mask="url(#m70)"/>
</g>
<polygon points="558.80,353.40 572.00,351.50 676.50,355.30 667.00,356.60" fill="#14648e"/>
<polyline points="559.70,371.40 596.80,374.80 615.70,374.30 667.00,381.90 675.50,379.00" fill="none" stroke="#2a2458" stroke-width="0.9"/>
<path d="M606.20,362.90 Q609.56,369.60 615.70,374.30 Q609.24,374.57 605.30,376.70 Q602.44,374.75 596.80,374.80 Q602.76,369.78 606.20,362.90 Z" fill="#1d1a56"/>
<path d="M606.20,362.90 L606.50,372.50 L596.80,374.80 Q602.76,369.78 606.20,362.90Z" fill="url(#lg72)"/>
<path d="M606.50,372.50 L610.50,368.50 Q610.55,369.05 615.70,374.30 L612.80,374.60 Q609.65,371.55 606.50,372.50Z" fill="#a9a9ca"/>
<line x1="588.20" y1="400.80" x2="623.58" y2="406.65" stroke="#c8283c" stroke-width="1.2"/>
<polygon points="629.30,407.60 622.10,409.45 624.27,406.77 623.08,403.53" fill="#c8283c"/>
<text x="601.30" y="411.20" font-size="9.6" fill="#c8283c"><tspan>λ</tspan><tspan dx="0.19" dy="2.88" font-size="5.95">y</tspan></text>
<text x="569.20" y="347.70" font-size="9.2" fill="#f4a6c6">V<tspan dy="-3.04" font-size="5.70">+</tspan></text>
<text x="674.60" y="352.40" font-size="8.6" fill="#8cc4ea">V<tspan dy="-2.84" font-size="5.33">-</tspan></text>
<text x="593.50" y="324.50" font-size="13.5" fill="#231f20" text-anchor="start" textLength="41.20" lengthAdjust="spacingAndGlyphs">0.6 mm</text>
<line x1="586.00" y1="329.10" x2="641.90" y2="329.10" stroke="#231f20" stroke-width="1.3"/>
<rect x="267.0" y="248.0" width="129.2" height="7.199999999999989" fill="url(#lg73)"/>
<line x1="267.00" y1="243.60" x2="267.00" y2="248.00" stroke="#231f20" stroke-width="0.6"/>
<text x="265.50" y="240.30" font-size="11.2" fill="#231f20" text-anchor="middle">0</text>
<line x1="290.49" y1="243.60" x2="290.49" y2="248.00" stroke="#231f20" stroke-width="0.6"/>
<text x="290.00" y="240.30" font-size="11.2" fill="#231f20" text-anchor="middle">2</text>
<line x1="313.98" y1="243.60" x2="313.98" y2="248.00" stroke="#231f20" stroke-width="0.6"/>
<text x="313.00" y="240.30" font-size="11.2" fill="#231f20" text-anchor="middle">4</text>
<line x1="337.47" y1="243.60" x2="337.47" y2="248.00" stroke="#231f20" stroke-width="0.6"/>
<text x="336.00" y="240.30" font-size="11.2" fill="#231f20" text-anchor="middle">6</text>
<line x1="360.96" y1="243.60" x2="360.96" y2="248.00" stroke="#231f20" stroke-width="0.6"/>
<text x="359.70" y="240.30" font-size="11.2" fill="#231f20" text-anchor="middle">8</text>
<line x1="384.45" y1="243.60" x2="384.45" y2="248.00" stroke="#231f20" stroke-width="0.6"/>
<text x="382.70" y="240.30" font-size="11.2" fill="#231f20" text-anchor="middle">10</text>
<line x1="396.20" y1="243.60" x2="396.20" y2="248.00" stroke="#231f20" stroke-width="0.6"/>
<text x="395.10" y="240.30" font-size="11.2" fill="#231f20" text-anchor="middle">11</text>
<text x="335.00" y="272.60" font-size="12.8" fill="#231f20" text-anchor="middle">J<tspan dy="3.58" font-size="8.32">y</tspan><tspan dy="-3.58"> [mA mm</tspan><tspan dy="-4.22" font-size="7.94">-2</tspan><tspan dy="4.22">]</tspan></text>
<rect x="20.9" y="282.4" width="189.2" height="15.3" rx="3.5" fill="#ced6b6"/>
<rect x="241.1" y="282.6" width="188.6" height="15.3" rx="3.5" fill="#c4badc"/>
<rect x="467.4" y="282.4" width="188.4" height="15.2" rx="3.5" fill="#acc8d0"/>
<text x="71.00" y="295.80" font-size="15.9" fill="#231f20" text-anchor="start" textLength="79.30" lengthAdjust="spacingAndGlyphs">Offset effect</text>
<text x="279.50" y="295.80" font-size="15.9" fill="#231f20" text-anchor="start" textLength="120.40" lengthAdjust="spacingAndGlyphs">Layer height effect</text>
<text x="505.40" y="295.80" font-size="15.9" fill="#231f20" text-anchor="start" textLength="116.50" lengthAdjust="spacingAndGlyphs">Layer width effect</text>
<polygon points="58.80,606.10 89.40,608.60 90.10,669.30 62.20,665.10" fill="#f5bfd3" fill-opacity="0.95"/>
<polygon points="98.40,636.00 128.90,639.00 128.70,698.90 100.80,696.50" fill="#a9cfec"/>
<polygon points="64.20,622.00 121.90,644.70 119.60,689.50 67.00,655.90" fill="url(#lg74)"/>
<polygon points="64.20,622.00 121.90,644.70 119.60,689.50 67.00,655.90" fill="url(#lg75)"/>
<polygon points="121.90,644.70 138.30,639.90 136.40,680.80 119.60,689.50" fill="#8a7634"/>
<polygon points="64.20,622.00 79.00,617.80 138.30,639.90 121.90,644.70" fill="url(#lg76)"/>
<line x1="88.50" y1="627.50" x2="104.00" y2="631.50" stroke="#e8c890" stroke-width="0.7"/>
<polygon points="98.40,636.00 128.90,639.00 128.70,698.90 100.80,696.50" fill="#9aa27c" clip-path="url(#cp77)"/>
<polygon points="98.40,636.00 128.90,639.00 128.70,698.90 100.80,696.50" fill="#5f6e5b" clip-path="url(#cp78)"/>
<polygon points="98.40,636.00 128.90,639.00 128.70,698.90 100.80,696.50" fill="#6e7d64" clip-path="url(#cp79)"/>
<path d="M79,646.3 Q85,645 89.3,642 Q92,649 97.3,654.3 Q92,655.5 88.5,657.9 Q84,650 79,646.3Z" fill="#1e1c62"/>
<polyline points="79.00,646.30 88.50,657.90 97.30,654.30" fill="none" stroke="#3a88c8" stroke-width="0.7"/>
<polyline points="65.40,639.60 79.00,646.30" fill="none" stroke="#1a7cb0" stroke-width="0.9"/>
<polyline points="97.30,655.50 119.60,669.10 136.30,660.30" fill="none" stroke="#1a7cb0" stroke-width="0.9"/>
<line x1="86.00" y1="668.80" x2="91.43" y2="698.41" stroke="#c8283c" stroke-width="1.3"/>
<polygon points="92.60,704.80 87.31,698.14 91.59,699.27 95.18,696.70" fill="#c8283c"/>
<text x="76.60" y="692.20" font-size="17" fill="#c8283c"><tspan>λ</tspan></text>
<text x="46.40" y="609.30" font-size="11.5" fill="#f4a6c6">V<tspan dy="-3.80" font-size="7.13">+</tspan></text>
<text x="134.60" y="703.00" font-size="11.5" fill="#8cc4ea">V<tspan dy="-3.80" font-size="7.13">-</tspan></text>
<text x="78.20" y="587.30" font-size="13.5" fill="#231f20" text-anchor="start" textLength="43.70" lengthAdjust="spacingAndGlyphs">Oblique</text>
<line x1="57.30" y1="594.00" x2="145.20" y2="594.00" stroke="#231f20" stroke-width="1.4"/>
<polygon points="265.50,606.30 305.20,606.30 305.20,632.00 265.50,632.00" fill="#f5bfd3" fill-opacity="0.95"/>
<polygon points="260.20,633.90 299.80,633.90 299.80,703.00 260.20,703.00" fill="#a9cfec"/>
<polygon points="240.00,625.10 277.00,640.20 277.00,700.40 244.70,678.90" fill="url(#lg80)"/>
<polygon points="277.00,640.20 326.00,625.80 324.60,678.20 277.00,700.40" fill="url(#lg81)"/>
<polygon points="240.00,625.10 286.30,611.70 326.00,625.80 277.00,640.20" fill="#c39a4a"/>
<line x1="266.50" y1="617.00" x2="303.50" y2="633.50" stroke="#ead8a8" stroke-width="1.0"/>
<line x1="265.50" y1="618.50" x2="302.50" y2="635.00" stroke="#d08a40" stroke-width="0.6"/>
<polygon points="260.20,633.90 299.80,633.90 299.80,703.00 260.20,703.00" fill="#aeac8c" clip-path="url(#cp82)"/>
<polygon points="260.20,633.90 299.80,633.90 299.80,703.00 260.20,703.00" fill="#a8a68a" clip-path="url(#cp83)"/>
<polygon points="260.20,633.90 299.80,633.90 299.80,703.00 260.20,703.00" fill="#a4a488" clip-path="url(#cp84)"/>
<polyline points="241.40,637.90 277.00,657.40 325.30,639.90" fill="none" stroke="#2288c0" stroke-width="1.0"/>
<polyline points="244.70,666.10 277.00,686.30 324.60,666.80" fill="none" stroke="#2288c0" stroke-width="1.0"/>
<line x1="302.60" y1="676.50" x2="302.60" y2="690.00" stroke="#e0d0a0" stroke-width="0.7"/>
<path d="M296,648 Q302,642 306,641.5 Q309,645 311.5,646.5 Q304,648 300,649.5Z" fill="#1e2a6a"/>
<path d="M254,670 Q258,668.5 260,669.5 Q262,675 265,678 Q259,676 256,674Z" fill="#1e2a6a"/>
<line x1="330.70" y1="658.50" x2="327.72" y2="685.04" stroke="#c8283c" stroke-width="1.3"/>
<polygon points="327.00,691.50 323.86,683.60 327.63,685.91 331.81,684.49" fill="#c8283c"/>
<text x="333.20" y="677.70" font-size="17" fill="#c8283c"><tspan>λ</tspan></text>
<text x="307.00" y="607.70" font-size="11.5" fill="#f4a6c6">V<tspan dy="-3.80" font-size="7.13">+</tspan></text>
<text x="279.00" y="705.00" font-size="11.5" fill="#8cc4ea">V<tspan dy="-3.80" font-size="7.13">-</tspan></text>
<text x="244.00" y="588.40" font-size="13.5" fill="#231f20" text-anchor="start" textLength="87.30" lengthAdjust="spacingAndGlyphs">Stack (-45º/45º)</text>
<line x1="243.10" y1="595.00" x2="331.60" y2="595.00" stroke="#231f20" stroke-width="1.4"/>
<polygon points="422.40,614.00 461.70,610.80 461.70,640.00 424.70,682.00" fill="#f5bfd3" fill-opacity="0.95"/>
<polygon points="482.00,640.00 514.80,613.20 514.80,675.00 482.60,693.50" fill="#b9d9f2" fill-opacity="0.95"/>
<polygon points="425.80,614.50 482.80,614.50 482.80,691.10 428.00,679.50" fill="#bcb090"/>
<g clip-path="url(#cp85)">
<ellipse cx="445.5" cy="625.5" rx="10" ry="9" fill="url(#rg86)"/>
<ellipse cx="461.0" cy="625.5" rx="10" ry="9" fill="url(#rg87)"/>
<rect x="449" y="612" width="8" height="8" fill="url(#lg88)"/>
<path d="M452.8,618.3 Q451.5,627 443.5,633.5 L464,634.5 Q455,628 452.8,618.3Z" fill="#1e2a6a"/>
<polygon points="425,631.3 483,635.7 483,672.2 425,663.4" fill="url(#lg89)"/>
<rect x="447" y="667.5" width="13" height="26" fill="url(#lg90)" mask="url(#m92)"/>
</g>
<polygon points="482.80,614.50 512.00,613.80 511.20,673.60 482.80,691.10" fill="#8c9ea4"/>
<g clip-path="url(#cp93)">
<polygon points="482,635.7 512,629.8 512,659 482,672.2" fill="#a08272"/>
<polygon points="482,672.2 512,659 512,680 482,695" fill="#98a6a4"/>
<line x1="499.60" y1="633.00" x2="499.60" y2="662.00" stroke="#c0b0a8" stroke-width="0.6"/>
<path d="M499.6,652 Q499,660 495.5,666 L503,665 Q500,660 499.6,652Z" fill="#1e3a7a"/>
</g>
<polygon points="425.80,614.50 440.00,613.20 512.00,613.80 482.80,614.50" fill="#c8b89c"/>
<polyline points="426.60,631.30 482.80,635.70 511.20,629.80" fill="none" stroke="#1e7aaa" stroke-width="1.0"/>
<polyline points="427.30,663.40 482.80,672.20 511.20,659.00" fill="none" stroke="#1e7aaa" stroke-width="1.0"/>
<line x1="435.10" y1="686.70" x2="474.64" y2="694.97" stroke="#c8283c" stroke-width="1.3"/>
<polygon points="481.00,696.30 472.84,698.68 475.49,695.15 474.48,690.85" fill="#c8283c"/>
<text x="453.80" y="707.60" font-size="17" fill="#c8283c"><tspan>λ</tspan></text>
<text x="409.50" y="610.80" font-size="11.5" fill="#f4a6c6">V<tspan dy="-3.80" font-size="7.13">+</tspan></text>
<text x="516.70" y="647.80" font-size="11.5" fill="#8cc4ea">V<tspan dy="-3.80" font-size="7.13">-</tspan></text>
<text x="432.60" y="589.90" font-size="13.5" fill="#231f20" text-anchor="start" textLength="75.60" lengthAdjust="spacingAndGlyphs">Stack (0º/90º)</text>
<line x1="426.20" y1="594.80" x2="513.90" y2="594.80" stroke="#231f20" stroke-width="1.4"/>
<rect x="595.4" y="629.2" width="10.899999999999977" height="173.0999999999999" fill="url(#lg94)"/>
<line x1="603.50" y1="629.20" x2="609.70" y2="629.20" stroke="#555" stroke-width="0.7"/>
<text x="613.80" y="634.40" font-size="15" fill="#231f20" text-anchor="start">5</text>
<line x1="603.50" y1="663.82" x2="609.70" y2="663.82" stroke="#555" stroke-width="0.7"/>
<text x="613.80" y="668.90" font-size="15" fill="#231f20" text-anchor="start">4</text>
<line x1="603.50" y1="698.44" x2="609.70" y2="698.44" stroke="#555" stroke-width="0.7"/>
<text x="613.80" y="703.70" font-size="15" fill="#231f20" text-anchor="start">3</text>
<line x1="603.50" y1="733.06" x2="609.70" y2="733.06" stroke="#555" stroke-width="0.7"/>
<text x="613.80" y="738.50" font-size="15" fill="#231f20" text-anchor="start">2</text>
<line x1="603.50" y1="767.68" x2="609.70" y2="767.68" stroke="#555" stroke-width="0.7"/>
<text x="613.80" y="773.40" font-size="15" fill="#231f20" text-anchor="start">1</text>
<line x1="603.50" y1="802.30" x2="609.70" y2="802.30" stroke="#555" stroke-width="0.7"/>
<text x="613.80" y="807.10" font-size="15" fill="#231f20" text-anchor="start">0</text>
<text transform="translate(641.50,717.50) rotate(-90)" font-size="15" fill="#231f20" text-anchor="middle">J<tspan> [mA mm</tspan><tspan dy="-4.95" font-size="9.30">-2</tspan><tspan dy="4.95">]</tspan></text>
</svg></body></html>
